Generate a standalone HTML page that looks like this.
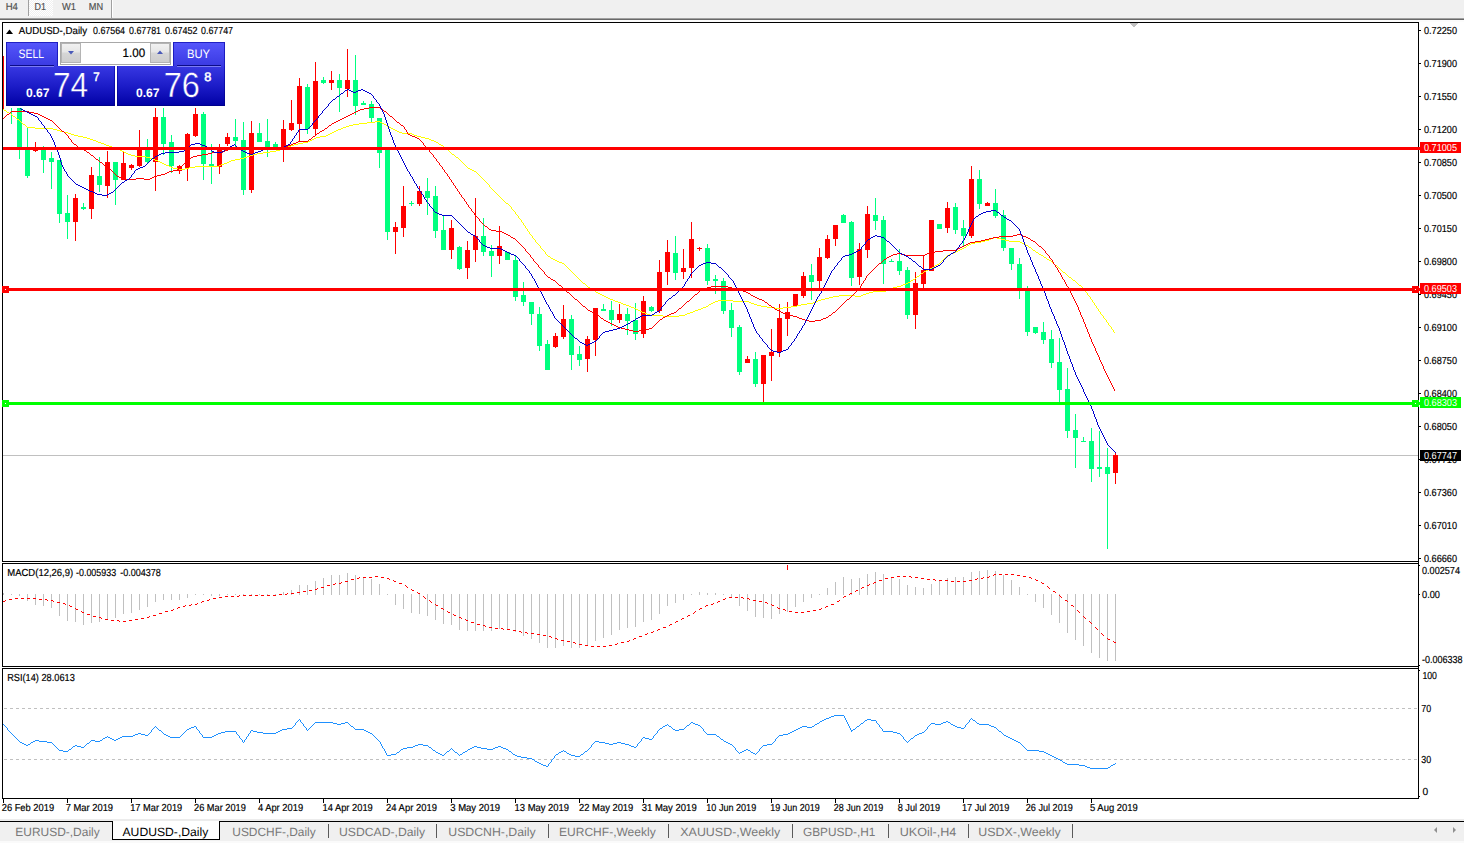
<!DOCTYPE html>
<html><head><meta charset="utf-8"><title>AUDUSD Daily</title>
<style>html,body{margin:0;padding:0;background:#fff;overflow:hidden}body{width:1464px;height:843px;font-family:"Liberation Sans",sans-serif}</style></head>
<body>
<svg width="1464" height="843" viewBox="0 0 1464 843" font-family='"Liberation Sans", sans-serif' text-rendering="geometricPrecision" style="display:block">
<defs>
<linearGradient id="gb" x1="0" y1="0" x2="0" y2="1"><stop offset="0" stop-color="#5656fc"/><stop offset="1" stop-color="#3a3ae2"/></linearGradient>
<linearGradient id="gl" gradientUnits="userSpaceOnUse" x1="0" y1="66" x2="0" y2="106"><stop offset="0" stop-color="#3838e2"/><stop offset="0.5" stop-color="#1c1cc8"/><stop offset="1" stop-color="#0000a4"/></linearGradient>
<linearGradient id="gd" x1="0" y1="0" x2="0" y2="1"><stop offset="0" stop-color="#1818c0"/><stop offset="1" stop-color="#00008c"/></linearGradient>
<linearGradient id="gs" x1="0" y1="0" x2="0" y2="1"><stop offset="0" stop-color="#f2f2f2"/><stop offset="0.45" stop-color="#e6e6e6"/><stop offset="0.5" stop-color="#d6d6d6"/><stop offset="1" stop-color="#cdcdcd"/></linearGradient>
<pattern id="chk" width="2" height="2" patternUnits="userSpaceOnUse"><rect width="2" height="2" fill="#f0f0f0"/><rect width="1" height="1" fill="#fff"/><rect x="1" y="1" width="1" height="1" fill="#fff"/></pattern>
<clipPath id="cm"><rect x="3" y="23" width="1415" height="538"/></clipPath>
</defs>
<rect x="0" y="0" width="1464" height="843" fill="#fff"/>
<rect x="0" y="0" width="1464" height="18" fill="#f0f0f0"/>
<rect x="0" y="18" width="1464" height="1" fill="#a0a0a0"/>
<rect x="0" y="19" width="1464" height="1" fill="#696969"/>
<rect x="0" y="20" width="1464" height="2" fill="#fcfcfc"/>
<rect x="29" y="0" width="24" height="16" fill="url(#chk)"/>
<rect x="28" y="0" width="1" height="16" fill="#a0a0a0"/>
<rect x="111" y="0" width="1" height="18" fill="#a0a0a0"/>
<rect x="112" y="0" width="1" height="17" fill="#fff"/>
<text x="5.7" y="9.6" font-size="10.2" fill="#505050" textLength="12.2" lengthAdjust="spacingAndGlyphs" stroke="#505050" stroke-width="0.18">H4</text>
<text x="34.6" y="9.6" font-size="10.2" fill="#505050" textLength="11.4" lengthAdjust="spacingAndGlyphs" stroke="#505050" stroke-width="0.18">D1</text>
<text x="62" y="9.6" font-size="10.2" fill="#505050" textLength="14" lengthAdjust="spacingAndGlyphs" stroke="#505050" stroke-width="0.18">W1</text>
<text x="88.8" y="9.6" font-size="10.2" fill="#505050" textLength="14.3" lengthAdjust="spacingAndGlyphs" stroke="#505050" stroke-width="0.18">MN</text>
<g shape-rendering="crispEdges">
<rect x="3" y="455" width="1415" height="1" fill="#c0c0c0"/>
<g clip-path="url(#cm)">
<rect x="3" y="56" width="1" height="54" fill="#ff0000"/>
<rect x="11" y="90" width="1" height="34" fill="#00ff7f"/>
<rect x="9" y="92" width="5" height="12" fill="#00ff7f"/>
<rect x="19" y="100" width="1" height="59" fill="#00ff7f"/>
<rect x="17" y="100" width="5" height="48" fill="#00ff7f"/>
<rect x="27" y="128" width="1" height="50" fill="#00ff7f"/>
<rect x="25" y="148" width="5" height="28" fill="#00ff7f"/>
<rect x="35" y="142" width="1" height="10" fill="#ff0000"/>
<rect x="33" y="148" width="5" height="3" fill="#ff0000"/>
<rect x="43" y="146" width="1" height="27" fill="#00ff7f"/>
<rect x="41" y="149" width="5" height="11" fill="#00ff7f"/>
<rect x="51" y="152" width="1" height="37" fill="#00ff7f"/>
<rect x="49" y="158" width="5" height="4" fill="#00ff7f"/>
<rect x="59" y="160" width="1" height="63" fill="#00ff7f"/>
<rect x="57" y="160" width="5" height="54" fill="#00ff7f"/>
<rect x="67" y="195" width="1" height="44" fill="#00ff7f"/>
<rect x="65" y="213" width="5" height="9" fill="#00ff7f"/>
<rect x="75" y="194" width="1" height="47" fill="#ff0000"/>
<rect x="73" y="198" width="5" height="24" fill="#ff0000"/>
<rect x="83" y="203" width="1" height="7" fill="#00ff7f"/>
<rect x="81" y="207" width="5" height="2" fill="#00ff7f"/>
<rect x="91" y="167" width="1" height="52" fill="#ff0000"/>
<rect x="89" y="175" width="5" height="34" fill="#ff0000"/>
<rect x="99" y="157" width="1" height="35" fill="#00ff7f"/>
<rect x="97" y="176" width="5" height="9" fill="#00ff7f"/>
<rect x="107" y="151" width="1" height="47" fill="#ff0000"/>
<rect x="105" y="162" width="5" height="24" fill="#ff0000"/>
<rect x="115" y="162" width="1" height="43" fill="#00ff7f"/>
<rect x="113" y="162" width="5" height="18" fill="#00ff7f"/>
<rect x="123" y="152" width="1" height="28" fill="#ff0000"/>
<rect x="121" y="163" width="5" height="17" fill="#ff0000"/>
<rect x="131" y="164" width="1" height="6" fill="#ff0000"/>
<rect x="129" y="165" width="5" height="3" fill="#ff0000"/>
<rect x="139" y="130" width="1" height="37" fill="#ff0000"/>
<rect x="137" y="147" width="5" height="19" fill="#ff0000"/>
<rect x="147" y="139" width="1" height="25" fill="#00ff7f"/>
<rect x="145" y="148" width="5" height="14" fill="#00ff7f"/>
<rect x="155" y="108" width="1" height="83" fill="#ff0000"/>
<rect x="153" y="117" width="5" height="45" fill="#ff0000"/>
<rect x="163" y="108" width="1" height="47" fill="#00ff7f"/>
<rect x="161" y="117" width="5" height="27" fill="#00ff7f"/>
<rect x="171" y="135" width="1" height="38" fill="#00ff7f"/>
<rect x="169" y="142" width="5" height="24" fill="#00ff7f"/>
<rect x="179" y="165" width="1" height="9" fill="#ff0000"/>
<rect x="177" y="166" width="5" height="5" fill="#ff0000"/>
<rect x="187" y="133" width="1" height="48" fill="#ff0000"/>
<rect x="185" y="134" width="5" height="34" fill="#ff0000"/>
<rect x="195" y="108" width="1" height="29" fill="#ff0000"/>
<rect x="193" y="114" width="5" height="22" fill="#ff0000"/>
<rect x="203" y="112" width="1" height="68" fill="#00ff7f"/>
<rect x="201" y="114" width="5" height="50" fill="#00ff7f"/>
<rect x="211" y="144" width="1" height="40" fill="#00ff7f"/>
<rect x="209" y="164" width="5" height="3" fill="#00ff7f"/>
<rect x="219" y="144" width="1" height="30" fill="#ff0000"/>
<rect x="217" y="148" width="5" height="19" fill="#ff0000"/>
<rect x="227" y="133" width="1" height="13" fill="#ff0000"/>
<rect x="225" y="137" width="5" height="7" fill="#ff0000"/>
<rect x="235" y="119" width="1" height="28" fill="#00ff7f"/>
<rect x="233" y="137" width="5" height="4" fill="#00ff7f"/>
<rect x="243" y="122" width="1" height="73" fill="#00ff7f"/>
<rect x="241" y="140" width="5" height="50" fill="#00ff7f"/>
<rect x="251" y="121" width="1" height="72" fill="#ff0000"/>
<rect x="249" y="133" width="5" height="57" fill="#ff0000"/>
<rect x="259" y="123" width="1" height="19" fill="#00ff7f"/>
<rect x="257" y="133" width="5" height="9" fill="#00ff7f"/>
<rect x="267" y="119" width="1" height="38" fill="#00ff7f"/>
<rect x="265" y="141" width="5" height="7" fill="#00ff7f"/>
<rect x="275" y="142" width="1" height="6" fill="#00ff7f"/>
<rect x="273" y="144" width="5" height="4" fill="#00ff7f"/>
<rect x="283" y="120" width="1" height="42" fill="#ff0000"/>
<rect x="281" y="129" width="5" height="19" fill="#ff0000"/>
<rect x="291" y="100" width="1" height="31" fill="#ff0000"/>
<rect x="289" y="123" width="5" height="7" fill="#ff0000"/>
<rect x="299" y="78" width="1" height="64" fill="#ff0000"/>
<rect x="297" y="86" width="5" height="38" fill="#ff0000"/>
<rect x="307" y="84" width="1" height="50" fill="#00ff7f"/>
<rect x="305" y="87" width="5" height="42" fill="#00ff7f"/>
<rect x="315" y="62" width="1" height="73" fill="#ff0000"/>
<rect x="313" y="81" width="5" height="48" fill="#ff0000"/>
<rect x="323" y="77" width="1" height="7" fill="#00ff7f"/>
<rect x="321" y="80" width="5" height="3" fill="#00ff7f"/>
<rect x="331" y="71" width="1" height="19" fill="#ff0000"/>
<rect x="329" y="80" width="5" height="3" fill="#ff0000"/>
<rect x="339" y="74" width="1" height="38" fill="#00ff7f"/>
<rect x="337" y="80" width="5" height="8" fill="#00ff7f"/>
<rect x="347" y="49" width="1" height="48" fill="#ff0000"/>
<rect x="345" y="80" width="5" height="9" fill="#ff0000"/>
<rect x="355" y="55" width="1" height="60" fill="#00ff7f"/>
<rect x="353" y="80" width="5" height="26" fill="#00ff7f"/>
<rect x="363" y="101" width="1" height="4" fill="#00ff7f"/>
<rect x="361" y="103" width="5" height="2" fill="#00ff7f"/>
<rect x="371" y="101" width="1" height="21" fill="#00ff7f"/>
<rect x="369" y="104" width="5" height="14" fill="#00ff7f"/>
<rect x="379" y="118" width="1" height="50" fill="#00ff7f"/>
<rect x="377" y="118" width="5" height="35" fill="#00ff7f"/>
<rect x="387" y="150" width="1" height="90" fill="#00ff7f"/>
<rect x="385" y="150" width="5" height="82" fill="#00ff7f"/>
<rect x="395" y="222" width="1" height="32" fill="#ff0000"/>
<rect x="393" y="227" width="5" height="5" fill="#ff0000"/>
<rect x="403" y="186" width="1" height="51" fill="#ff0000"/>
<rect x="401" y="206" width="5" height="22" fill="#ff0000"/>
<rect x="411" y="201" width="1" height="5" fill="#00ff7f"/>
<rect x="409" y="203" width="5" height="1" fill="#00ff7f"/>
<rect x="419" y="186" width="1" height="20" fill="#ff0000"/>
<rect x="417" y="191" width="5" height="13" fill="#ff0000"/>
<rect x="427" y="178" width="1" height="37" fill="#00ff7f"/>
<rect x="425" y="191" width="5" height="7" fill="#00ff7f"/>
<rect x="435" y="186" width="1" height="52" fill="#00ff7f"/>
<rect x="433" y="196" width="5" height="35" fill="#00ff7f"/>
<rect x="443" y="215" width="1" height="35" fill="#00ff7f"/>
<rect x="441" y="230" width="5" height="20" fill="#00ff7f"/>
<rect x="451" y="220" width="1" height="39" fill="#ff0000"/>
<rect x="449" y="228" width="5" height="22" fill="#ff0000"/>
<rect x="459" y="246" width="1" height="24" fill="#00ff7f"/>
<rect x="457" y="247" width="5" height="22" fill="#00ff7f"/>
<rect x="467" y="241" width="1" height="38" fill="#ff0000"/>
<rect x="465" y="250" width="5" height="18" fill="#ff0000"/>
<rect x="475" y="198" width="1" height="64" fill="#ff0000"/>
<rect x="473" y="236" width="5" height="14" fill="#ff0000"/>
<rect x="483" y="218" width="1" height="38" fill="#00ff7f"/>
<rect x="481" y="236" width="5" height="16" fill="#00ff7f"/>
<rect x="491" y="245" width="1" height="32" fill="#00ff7f"/>
<rect x="489" y="251" width="5" height="5" fill="#00ff7f"/>
<rect x="499" y="226" width="1" height="38" fill="#ff0000"/>
<rect x="497" y="246" width="5" height="10" fill="#ff0000"/>
<rect x="507" y="252" width="1" height="8" fill="#00ff7f"/>
<rect x="505" y="252" width="5" height="8" fill="#00ff7f"/>
<rect x="515" y="256" width="1" height="45" fill="#00ff7f"/>
<rect x="513" y="260" width="5" height="37" fill="#00ff7f"/>
<rect x="523" y="282" width="1" height="24" fill="#00ff7f"/>
<rect x="521" y="295" width="5" height="7" fill="#00ff7f"/>
<rect x="531" y="302" width="1" height="23" fill="#00ff7f"/>
<rect x="529" y="302" width="5" height="12" fill="#00ff7f"/>
<rect x="539" y="307" width="1" height="44" fill="#00ff7f"/>
<rect x="537" y="314" width="5" height="32" fill="#00ff7f"/>
<rect x="547" y="340" width="1" height="30" fill="#00ff7f"/>
<rect x="545" y="344" width="5" height="26" fill="#00ff7f"/>
<rect x="555" y="333" width="1" height="15" fill="#ff0000"/>
<rect x="553" y="336" width="5" height="11" fill="#ff0000"/>
<rect x="563" y="305" width="1" height="34" fill="#ff0000"/>
<rect x="561" y="319" width="5" height="18" fill="#ff0000"/>
<rect x="571" y="315" width="1" height="55" fill="#00ff7f"/>
<rect x="569" y="319" width="5" height="36" fill="#00ff7f"/>
<rect x="579" y="346" width="1" height="20" fill="#00ff7f"/>
<rect x="577" y="354" width="5" height="6" fill="#00ff7f"/>
<rect x="587" y="336" width="1" height="36" fill="#ff0000"/>
<rect x="585" y="339" width="5" height="20" fill="#ff0000"/>
<rect x="595" y="308" width="1" height="48" fill="#ff0000"/>
<rect x="593" y="308" width="5" height="32" fill="#ff0000"/>
<rect x="603" y="304" width="1" height="7" fill="#00ff7f"/>
<rect x="601" y="309" width="5" height="2" fill="#00ff7f"/>
<rect x="611" y="301" width="1" height="25" fill="#00ff7f"/>
<rect x="609" y="310" width="5" height="10" fill="#00ff7f"/>
<rect x="619" y="304" width="1" height="19" fill="#ff0000"/>
<rect x="617" y="314" width="5" height="6" fill="#ff0000"/>
<rect x="627" y="308" width="1" height="27" fill="#00ff7f"/>
<rect x="625" y="314" width="5" height="7" fill="#00ff7f"/>
<rect x="635" y="303" width="1" height="37" fill="#00ff7f"/>
<rect x="633" y="320" width="5" height="14" fill="#00ff7f"/>
<rect x="643" y="296" width="1" height="42" fill="#ff0000"/>
<rect x="641" y="301" width="5" height="33" fill="#ff0000"/>
<rect x="651" y="306" width="1" height="6" fill="#00ff7f"/>
<rect x="649" y="307" width="5" height="4" fill="#00ff7f"/>
<rect x="659" y="260" width="1" height="53" fill="#ff0000"/>
<rect x="657" y="272" width="5" height="39" fill="#ff0000"/>
<rect x="667" y="240" width="1" height="45" fill="#ff0000"/>
<rect x="665" y="252" width="5" height="20" fill="#ff0000"/>
<rect x="675" y="236" width="1" height="44" fill="#00ff7f"/>
<rect x="673" y="253" width="5" height="20" fill="#00ff7f"/>
<rect x="683" y="249" width="1" height="30" fill="#ff0000"/>
<rect x="681" y="268" width="5" height="4" fill="#ff0000"/>
<rect x="691" y="222" width="1" height="56" fill="#ff0000"/>
<rect x="689" y="239" width="5" height="29" fill="#ff0000"/>
<rect x="699" y="247" width="1" height="4" fill="#ff0000"/>
<rect x="697" y="248" width="5" height="1" fill="#ff0000"/>
<rect x="707" y="244" width="1" height="41" fill="#00ff7f"/>
<rect x="705" y="248" width="5" height="33" fill="#00ff7f"/>
<rect x="715" y="275" width="1" height="19" fill="#00ff7f"/>
<rect x="713" y="279" width="5" height="2" fill="#00ff7f"/>
<rect x="723" y="278" width="1" height="36" fill="#00ff7f"/>
<rect x="721" y="281" width="5" height="30" fill="#00ff7f"/>
<rect x="731" y="303" width="1" height="34" fill="#00ff7f"/>
<rect x="729" y="310" width="5" height="18" fill="#00ff7f"/>
<rect x="739" y="325" width="1" height="50" fill="#00ff7f"/>
<rect x="737" y="327" width="5" height="45" fill="#00ff7f"/>
<rect x="747" y="356" width="1" height="7" fill="#ff0000"/>
<rect x="745" y="359" width="5" height="4" fill="#ff0000"/>
<rect x="755" y="352" width="1" height="35" fill="#00ff7f"/>
<rect x="753" y="359" width="5" height="25" fill="#00ff7f"/>
<rect x="763" y="355" width="1" height="47" fill="#ff0000"/>
<rect x="761" y="355" width="5" height="29" fill="#ff0000"/>
<rect x="771" y="329" width="1" height="52" fill="#ff0000"/>
<rect x="769" y="352" width="5" height="4" fill="#ff0000"/>
<rect x="779" y="304" width="1" height="53" fill="#ff0000"/>
<rect x="777" y="318" width="5" height="34" fill="#ff0000"/>
<rect x="787" y="302" width="1" height="34" fill="#ff0000"/>
<rect x="785" y="312" width="5" height="7" fill="#ff0000"/>
<rect x="795" y="294" width="1" height="13" fill="#ff0000"/>
<rect x="793" y="294" width="5" height="12" fill="#ff0000"/>
<rect x="803" y="272" width="1" height="26" fill="#ff0000"/>
<rect x="801" y="276" width="5" height="20" fill="#ff0000"/>
<rect x="811" y="264" width="1" height="36" fill="#00ff7f"/>
<rect x="809" y="275" width="5" height="7" fill="#00ff7f"/>
<rect x="819" y="248" width="1" height="40" fill="#ff0000"/>
<rect x="817" y="257" width="5" height="24" fill="#ff0000"/>
<rect x="827" y="235" width="1" height="24" fill="#ff0000"/>
<rect x="825" y="239" width="5" height="19" fill="#ff0000"/>
<rect x="835" y="225" width="1" height="21" fill="#ff0000"/>
<rect x="833" y="225" width="5" height="14" fill="#ff0000"/>
<rect x="843" y="214" width="1" height="9" fill="#00ff7f"/>
<rect x="841" y="215" width="5" height="8" fill="#00ff7f"/>
<rect x="851" y="221" width="1" height="65" fill="#00ff7f"/>
<rect x="849" y="222" width="5" height="56" fill="#00ff7f"/>
<rect x="859" y="243" width="1" height="42" fill="#ff0000"/>
<rect x="857" y="249" width="5" height="28" fill="#ff0000"/>
<rect x="867" y="206" width="1" height="52" fill="#ff0000"/>
<rect x="865" y="214" width="5" height="36" fill="#ff0000"/>
<rect x="875" y="198" width="1" height="32" fill="#00ff7f"/>
<rect x="873" y="215" width="5" height="6" fill="#00ff7f"/>
<rect x="883" y="216" width="1" height="68" fill="#00ff7f"/>
<rect x="881" y="220" width="5" height="44" fill="#00ff7f"/>
<rect x="891" y="259" width="1" height="3" fill="#00ff7f"/>
<rect x="889" y="261" width="5" height="1" fill="#00ff7f"/>
<rect x="899" y="249" width="1" height="26" fill="#00ff7f"/>
<rect x="897" y="261" width="5" height="10" fill="#00ff7f"/>
<rect x="907" y="267" width="1" height="52" fill="#00ff7f"/>
<rect x="905" y="270" width="5" height="45" fill="#00ff7f"/>
<rect x="915" y="272" width="1" height="57" fill="#ff0000"/>
<rect x="913" y="283" width="5" height="32" fill="#ff0000"/>
<rect x="923" y="256" width="1" height="32" fill="#ff0000"/>
<rect x="921" y="270" width="5" height="14" fill="#ff0000"/>
<rect x="931" y="220" width="1" height="51" fill="#ff0000"/>
<rect x="929" y="220" width="5" height="51" fill="#ff0000"/>
<rect x="939" y="224" width="1" height="5" fill="#00ff7f"/>
<rect x="937" y="224" width="5" height="5" fill="#00ff7f"/>
<rect x="947" y="202" width="1" height="31" fill="#ff0000"/>
<rect x="945" y="208" width="5" height="20" fill="#ff0000"/>
<rect x="955" y="203" width="1" height="31" fill="#00ff7f"/>
<rect x="953" y="207" width="5" height="23" fill="#00ff7f"/>
<rect x="963" y="220" width="1" height="27" fill="#00ff7f"/>
<rect x="961" y="228" width="5" height="8" fill="#00ff7f"/>
<rect x="971" y="166" width="1" height="72" fill="#ff0000"/>
<rect x="969" y="179" width="5" height="57" fill="#ff0000"/>
<rect x="979" y="170" width="1" height="39" fill="#00ff7f"/>
<rect x="977" y="179" width="5" height="25" fill="#00ff7f"/>
<rect x="987" y="202" width="1" height="4" fill="#ff0000"/>
<rect x="985" y="203" width="5" height="3" fill="#ff0000"/>
<rect x="995" y="189" width="1" height="29" fill="#00ff7f"/>
<rect x="993" y="203" width="5" height="13" fill="#00ff7f"/>
<rect x="1003" y="210" width="1" height="41" fill="#00ff7f"/>
<rect x="1001" y="215" width="5" height="33" fill="#00ff7f"/>
<rect x="1011" y="248" width="1" height="22" fill="#00ff7f"/>
<rect x="1009" y="248" width="5" height="16" fill="#00ff7f"/>
<rect x="1019" y="258" width="1" height="41" fill="#00ff7f"/>
<rect x="1017" y="264" width="5" height="25" fill="#00ff7f"/>
<rect x="1027" y="286" width="1" height="50" fill="#00ff7f"/>
<rect x="1025" y="289" width="5" height="43" fill="#00ff7f"/>
<rect x="1035" y="327" width="1" height="7" fill="#00ff7f"/>
<rect x="1033" y="327" width="5" height="6" fill="#00ff7f"/>
<rect x="1043" y="322" width="1" height="22" fill="#00ff7f"/>
<rect x="1041" y="332" width="5" height="8" fill="#00ff7f"/>
<rect x="1051" y="330" width="1" height="38" fill="#00ff7f"/>
<rect x="1049" y="339" width="5" height="24" fill="#00ff7f"/>
<rect x="1059" y="338" width="1" height="64" fill="#00ff7f"/>
<rect x="1057" y="362" width="5" height="28" fill="#00ff7f"/>
<rect x="1067" y="368" width="1" height="70" fill="#00ff7f"/>
<rect x="1065" y="389" width="5" height="42" fill="#00ff7f"/>
<rect x="1075" y="414" width="1" height="54" fill="#00ff7f"/>
<rect x="1073" y="430" width="5" height="8" fill="#00ff7f"/>
<rect x="1083" y="437" width="1" height="5" fill="#00ff7f"/>
<rect x="1081" y="441" width="5" height="1" fill="#00ff7f"/>
<rect x="1091" y="428" width="1" height="54" fill="#00ff7f"/>
<rect x="1089" y="441" width="5" height="28" fill="#00ff7f"/>
<rect x="1099" y="431" width="1" height="46" fill="#00ff7f"/>
<rect x="1097" y="467" width="5" height="2" fill="#00ff7f"/>
<rect x="1107" y="448" width="1" height="101" fill="#00ff7f"/>
<rect x="1105" y="467" width="5" height="7" fill="#00ff7f"/>
<rect x="1115" y="452" width="1" height="32" fill="#ff0000"/>
<rect x="1113" y="455" width="5" height="18" fill="#ff0000"/>
</g>
<path d="M4 110.5h2M7 112.5h2M9 113.5h2M13 116.5h2M17 119.5h2M375 121.5h5M367 122.5h8M380 122.5h2M359 123.5h8M382 123.5h2M23 124.5h2M353 124.5h6M384 124.5h2M349 125.5h4M346 126.5h3M387 126.5h2M27 127.5h8M343 127.5h3M389 127.5h2M35 128.5h18M341 128.5h2M391 128.5h2M53 129.5h4M338 129.5h3M393 129.5h2M57 130.5h3M336 130.5h2M395 130.5h2M60 131.5h4M334 131.5h2M397 131.5h2M64 132.5h4M332 132.5h2M399 132.5h3M68 133.5h3M330 133.5h2M402 133.5h10M71 134.5h3M328 134.5h2M412 134.5h2M74 135.5h4M326 135.5h2M414 135.5h3M78 136.5h5M320 136.5h6M417 136.5h4M83 137.5h4M316 137.5h4M421 137.5h4M87 138.5h3M314 138.5h2M425 138.5h4M90 139.5h3M312 139.5h2M429 139.5h2M93 140.5h3M310 140.5h2M431 140.5h3M96 141.5h2M308 141.5h2M434 141.5h2M98 142.5h3M303 142.5h5M436 142.5h2M101 143.5h3M298 143.5h5M104 144.5h2M294 144.5h4M439 144.5h2M106 145.5h3M291 145.5h3M441 145.5h2M109 146.5h3M288 146.5h3M112 147.5h3M285 147.5h3M115 148.5h2M283 148.5h2M117 149.5h3M280 149.5h3M446 149.5h2M120 150.5h2M276 150.5h4M122 151.5h2M270 151.5h6M124 152.5h2M263 152.5h7M126 153.5h2M257 153.5h6M128 154.5h3M253 154.5h4M452 154.5h2M131 155.5h4M250 155.5h3M135 156.5h11M247 156.5h3M146 157.5h4M244 157.5h3M456 157.5h2M150 158.5h3M240 158.5h4M153 159.5h2M235 159.5h5M155 160.5h3M231 160.5h4M158 161.5h2M229 161.5h2M160 162.5h2M227 162.5h2M162 163.5h2M224 163.5h3M164 164.5h2M221 164.5h3M166 165.5h3M219 165.5h2M169 166.5h2M195 166.5h24M171 167.5h2M189 167.5h6M173 168.5h6M185 168.5h4M468 168.5h2M179 169.5h6M470 169.5h2M472 170.5h2M474 171.5h2M506 203.5h2M994 237.5h3M991 238.5h3M997 238.5h4M989 239.5h2M1001 239.5h4M985 240.5h4M1005 240.5h4M981 241.5h4M1009 241.5h11M975 242.5h6M1020 242.5h2M971 243.5h4M1022 243.5h2M969 244.5h2M1024 244.5h2M967 245.5h2M1026 245.5h2M964 247.5h2M1029 247.5h2M962 248.5h2M960 249.5h2M958 250.5h2M1033 250.5h2M956 251.5h2M954 252.5h2M1036 252.5h2M951 253.5h3M949 254.5h2M1039 254.5h2M947 255.5h2M1041 255.5h2M548 256.5h2M1044 257.5h2M551 258.5h2M553 259.5h2M1047 259.5h2M555 260.5h2M1049 260.5h2M557 261.5h2M559 262.5h3M562 263.5h2M937 264.5h2M935 265.5h2M1055 265.5h2M932 267.5h2M930 268.5h2M928 269.5h2M926 270.5h2M924 271.5h2M1063 272.5h2M921 273.5h2M917 276.5h2M1069 277.5h2M913 279.5h2M911 280.5h2M1073 280.5h2M908 282.5h2M583 283.5h2M906 283.5h2M903 284.5h3M901 285.5h2M1079 285.5h2M897 286.5h4M588 287.5h2M893 287.5h4M890 288.5h3M591 289.5h2M888 289.5h2M593 290.5h2M886 290.5h2M873 291.5h13M596 292.5h2M869 292.5h4M598 293.5h2M866 293.5h3M600 294.5h2M863 294.5h3M602 295.5h2M839 295.5h16M861 295.5h2M604 296.5h2M833 296.5h6M855 296.5h6M606 297.5h2M829 297.5h4M608 298.5h2M825 298.5h4M610 299.5h3M821 299.5h4M613 300.5h2M718 300.5h15M818 300.5h3M615 301.5h3M715 301.5h3M733 301.5h16M815 301.5h3M618 302.5h3M713 302.5h2M749 302.5h2M813 302.5h2M621 303.5h2M711 303.5h2M751 303.5h3M807 303.5h6M623 304.5h3M709 304.5h2M754 304.5h3M801 304.5h6M626 305.5h3M757 305.5h4M797 305.5h4M629 306.5h2M706 306.5h2M761 306.5h6M791 306.5h6M631 307.5h3M703 307.5h3M767 307.5h8M783 307.5h8M634 308.5h2M701 308.5h2M775 308.5h8M636 309.5h2M698 309.5h3M638 310.5h2M695 310.5h3M640 311.5h2M693 311.5h2M642 312.5h3M690 312.5h3M645 313.5h2M687 313.5h3M647 314.5h3M685 314.5h2M650 315.5h13M679 315.5h6M663 316.5h16M3.5 109v1M6.5 111v1M11.5 114v1M12.5 115v1M15.5 117v1M16.5 118v1M19.5 120v1M20.5 121v1M21.5 122v1M22.5 123v1M25.5 125v1M26.5 126v1M386.5 125v1M438.5 143v1M443.5 146v1M444.5 147v1M445.5 148v1M448.5 150v1M449.5 151v1M450.5 152v1M451.5 153v1M454.5 155v1M455.5 156v1M458.5 158v1M459.5 159v1M460.5 160v1M461.5 161v1M462.5 162v1M463.5 163v1M464.5 164v1M465.5 165v1M466.5 166v1M467.5 167v1M476.5 172v1M477.5 173v1M478.5 174v1M479.5 175v1M480.5 176v1M481.5 177v1M482.5 178v1M483.5 179v1M484.5 180v1M485.5 181v1M486.5 182v1M487.5 183v1M488.5 184v1M489.5 185v2M490.5 187v1M491.5 188v1M492.5 189v1M493.5 190v1M494.5 191v1M495.5 192v1M496.5 193v1M497.5 194v1M498.5 195v1M499.5 196v1M500.5 197v1M501.5 198v1M502.5 199v1M503.5 200v1M504.5 201v1M505.5 202v1M508.5 204v1M509.5 205v1M510.5 206v1M511.5 207v2M512.5 209v1M513.5 210v1M514.5 211v1M515.5 212v2M516.5 214v1M517.5 215v1M518.5 216v2M519.5 218v1M520.5 219v1M521.5 220v2M522.5 222v1M523.5 223v2M524.5 225v1M525.5 226v2M526.5 228v1M527.5 229v2M528.5 231v1M529.5 232v2M530.5 234v1M531.5 235v1M532.5 236v2M533.5 238v1M534.5 239v1M535.5 240v2M536.5 242v1M537.5 243v1M538.5 244v1M539.5 245v1M540.5 246v2M541.5 248v1M542.5 249v1M543.5 250v1M544.5 251v1M545.5 252v2M546.5 254v1M547.5 255v1M550.5 257v1M564.5 264v1M565.5 265v1M566.5 266v1M567.5 267v1M568.5 268v1M569.5 269v1M570.5 270v1M571.5 271v1M572.5 272v1M573.5 273v1M574.5 274v1M575.5 275v1M576.5 276v1M577.5 277v1M578.5 278v1M579.5 279v1M580.5 280v1M581.5 281v1M582.5 282v1M585.5 284v1M586.5 285v1M587.5 286v1M590.5 288v1M595.5 291v1M708.5 305v1M910.5 281v1M915.5 278v1M916.5 277v1M919.5 275v1M920.5 274v1M923.5 272v1M934.5 266v1M939.5 263v1M940.5 262v1M941.5 261v1M942.5 260v1M943.5 259v1M944.5 258v1M945.5 257v1M946.5 256v1M966.5 246v1M1028.5 246v1M1031.5 248v1M1032.5 249v1M1035.5 251v1M1038.5 253v1M1043.5 256v1M1046.5 258v1M1051.5 261v1M1052.5 262v1M1053.5 263v1M1054.5 264v1M1057.5 266v1M1058.5 267v1M1059.5 268v1M1060.5 269v1M1061.5 270v1M1062.5 271v1M1065.5 273v1M1066.5 274v1M1067.5 275v1M1068.5 276v1M1071.5 278v1M1072.5 279v1M1075.5 281v1M1076.5 282v1M1077.5 283v1M1078.5 284v1M1081.5 286v1M1082.5 287v1M1083.5 288v1M1084.5 289v2M1085.5 291v1M1086.5 292v1M1087.5 293v2M1088.5 295v1M1089.5 296v1M1090.5 297v2M1091.5 299v1M1092.5 300v2M1093.5 302v1M1094.5 303v2M1095.5 305v1M1096.5 306v2M1097.5 308v1M1098.5 309v2M1099.5 311v1M1100.5 312v2M1101.5 314v1M1102.5 315v1M1103.5 316v2M1104.5 318v1M1105.5 319v1M1106.5 320v2M1107.5 322v1M1108.5 323v2M1109.5 325v1M1110.5 326v1M1111.5 327v2M1112.5 329v1M1113.5 330v2M1114.5 332v1" fill="none" stroke="#ffff00" stroke-width="1"/>
<path d="M369 107.5h11M364 108.5h5M380 108.5h2M360 109.5h4M358 110.5h2M11 111.5h18M356 111.5h2M384 111.5h2M29 112.5h5M354 112.5h2M34 113.5h4M352 113.5h2M7 114.5h2M38 114.5h2M350 114.5h2M40 115.5h2M348 115.5h2M42 116.5h2M346 116.5h2M390 116.5h2M44 117.5h2M344 117.5h2M46 118.5h2M342 118.5h2M48 119.5h2M340 119.5h2M50 120.5h2M338 120.5h2M336 121.5h2M334 122.5h2M397 122.5h2M332 123.5h2M329 125.5h2M401 125.5h2M325 128.5h2M322 130.5h2M62 131.5h2M320 131.5h2M317 133.5h2M408 134.5h2M410 135.5h2M313 136.5h2M412 136.5h3M415 137.5h2M417 138.5h2M309 139.5h2M298 141.5h10M296 142.5h2M293 143.5h3M74 144.5h2M291 144.5h2M288 145.5h3M286 146.5h2M78 147.5h2M284 147.5h2M80 148.5h2M240 148.5h44M82 149.5h2M228 149.5h12M84 150.5h2M225 150.5h3M223 151.5h2M87 152.5h2M212 152.5h11M208 153.5h4M202 154.5h6M91 155.5h2M197 155.5h5M193 156.5h4M191 157.5h2M96 159.5h2M187 160.5h2M100 162.5h2M104 165.5h2M179 167.5h2M108 168.5h2M173 170.5h4M169 171.5h4M167 172.5h2M165 173.5h2M161 174.5h4M157 175.5h4M117 176.5h2M154 176.5h3M119 177.5h2M152 177.5h2M121 178.5h3M136 178.5h8M150 178.5h2M124 179.5h12M144 179.5h6M485 226.5h2M489 229.5h2M491 230.5h5M496 231.5h6M502 232.5h2M504 233.5h2M506 234.5h2M1017 234.5h4M508 235.5h2M1013 235.5h4M1021 235.5h2M999 236.5h14M1023 236.5h3M511 237.5h2M993 237.5h6M1026 237.5h2M513 238.5h2M989 238.5h4M1028 238.5h2M985 239.5h4M981 240.5h4M1031 240.5h2M975 241.5h6M1033 241.5h2M970 242.5h5M968 243.5h2M966 244.5h2M964 245.5h2M962 246.5h2M1039 246.5h2M960 247.5h2M958 248.5h2M956 249.5h2M943 250.5h13M935 251.5h8M930 252.5h5M897 253.5h4M927 253.5h3M893 254.5h4M901 254.5h4M925 254.5h2M891 255.5h2M905 255.5h20M889 256.5h2M887 257.5h2M884 259.5h2M879 263.5h2M548 277.5h2M551 279.5h2M553 280.5h2M559 285.5h2M711 286.5h17M707 287.5h4M728 287.5h4M704 288.5h3M732 288.5h4M702 289.5h2M736 289.5h3M700 290.5h2M739 290.5h4M743 291.5h3M567 292.5h2M746 292.5h2M748 293.5h2M695 294.5h2M751 295.5h2M753 296.5h2M755 297.5h2M757 298.5h2M575 299.5h2M759 299.5h3M847 299.5h2M762 300.5h2M687 301.5h2M765 302.5h2M769 305.5h2M583 306.5h2M772 307.5h2M679 308.5h2M775 309.5h2M588 310.5h2M777 310.5h2M590 311.5h2M779 311.5h2M592 312.5h2M674 312.5h2M781 312.5h2M833 312.5h2M594 313.5h2M671 313.5h3M783 313.5h3M669 314.5h2M786 314.5h3M597 315.5h2M667 315.5h2M789 315.5h4M829 315.5h2M665 316.5h2M793 316.5h4M663 317.5h2M797 317.5h2M826 317.5h2M601 318.5h2M799 318.5h3M823 318.5h3M660 319.5h2M802 319.5h3M821 319.5h2M604 320.5h2M805 320.5h4M815 320.5h6M606 321.5h2M809 321.5h6M608 322.5h2M610 323.5h2M612 324.5h2M614 325.5h2M616 326.5h2M618 327.5h3M621 328.5h4M649 328.5h3M625 329.5h4M645 329.5h4M629 330.5h4M639 330.5h6M633 331.5h6M3.5 118v1M4.5 117v1M5.5 116v1M6.5 115v1M9.5 113v1M10.5 112v1M52.5 121v1M53.5 122v1M54.5 123v1M55.5 124v1M56.5 125v1M57.5 126v1M58.5 127v1M59.5 128v1M60.5 129v1M61.5 130v1M64.5 132v1M65.5 133v1M66.5 134v1M67.5 135v1M68.5 136v2M69.5 138v1M70.5 139v1M71.5 140v2M72.5 142v1M73.5 143v1M76.5 145v1M77.5 146v1M86.5 151v1M89.5 153v1M90.5 154v1M93.5 156v1M94.5 157v1M95.5 158v1M98.5 160v1M99.5 161v1M102.5 163v1M103.5 164v1M106.5 166v1M107.5 167v1M110.5 169v1M111.5 170v1M112.5 171v1M113.5 172v1M114.5 173v1M115.5 174v1M116.5 175v1M177.5 169v1M178.5 168v1M181.5 166v1M182.5 165v1M183.5 164v1M184.5 163v1M185.5 162v1M186.5 161v1M189.5 159v1M190.5 158v1M308.5 140v1M311.5 138v1M312.5 137v1M315.5 135v1M316.5 134v1M319.5 132v1M324.5 129v1M327.5 127v1M328.5 126v1M331.5 124v1M382.5 109v1M383.5 110v1M386.5 112v1M387.5 113v1M388.5 114v1M389.5 115v1M392.5 117v1M393.5 118v1M394.5 119v1M395.5 120v1M396.5 121v1M399.5 123v1M400.5 124v1M403.5 126v1M404.5 127v2M405.5 129v1M406.5 130v2M407.5 132v2M419.5 139v1M420.5 140v1M421.5 141v1M422.5 142v1M423.5 143v2M424.5 145v1M425.5 146v1M426.5 147v1M427.5 148v1M428.5 149v1M429.5 150v2M430.5 152v1M431.5 153v1M432.5 154v1M433.5 155v2M434.5 157v1M435.5 158v1M436.5 159v2M437.5 161v1M438.5 162v1M439.5 163v2M440.5 165v1M441.5 166v1M442.5 167v2M443.5 169v1M444.5 170v2M445.5 172v1M446.5 173v1M447.5 174v2M448.5 176v1M449.5 177v2M450.5 179v1M451.5 180v2M452.5 182v1M453.5 183v2M454.5 185v1M455.5 186v2M456.5 188v1M457.5 189v2M458.5 191v1M459.5 192v2M460.5 194v1M461.5 195v2M462.5 197v1M463.5 198v1M464.5 199v2M465.5 201v1M466.5 202v2M467.5 204v1M468.5 205v2M469.5 207v1M470.5 208v1M471.5 209v2M472.5 211v1M473.5 212v1M474.5 213v2M475.5 215v1M476.5 216v1M477.5 217v1M478.5 218v1M479.5 219v2M480.5 221v1M481.5 222v1M482.5 223v1M483.5 224v1M484.5 225v1M487.5 227v1M488.5 228v1M510.5 236v1M515.5 239v1M516.5 240v1M517.5 241v1M518.5 242v1M519.5 243v1M520.5 244v1M521.5 245v1M522.5 246v1M523.5 247v1M524.5 248v1M525.5 249v2M526.5 251v1M527.5 252v1M528.5 253v1M529.5 254v1M530.5 255v2M531.5 257v1M532.5 258v1M533.5 259v2M534.5 261v1M535.5 262v1M536.5 263v1M537.5 264v1M538.5 265v2M539.5 267v1M540.5 268v1M541.5 269v1M542.5 270v1M543.5 271v1M544.5 272v2M545.5 274v1M546.5 275v1M547.5 276v1M550.5 278v1M555.5 281v1M556.5 282v1M557.5 283v1M558.5 284v1M561.5 286v1M562.5 287v1M563.5 288v1M564.5 289v1M565.5 290v1M566.5 291v1M569.5 293v1M570.5 294v1M571.5 295v1M572.5 296v1M573.5 297v1M574.5 298v1M577.5 300v1M578.5 301v1M579.5 302v1M580.5 303v1M581.5 304v1M582.5 305v1M585.5 307v1M586.5 308v1M587.5 309v1M596.5 314v1M599.5 316v1M600.5 317v1M603.5 319v1M652.5 327v1M653.5 326v1M654.5 325v1M655.5 324v1M656.5 323v1M657.5 322v1M658.5 321v1M659.5 320v1M662.5 318v1M676.5 311v1M677.5 310v1M678.5 309v1M681.5 307v1M682.5 306v1M683.5 305v1M684.5 304v1M685.5 303v1M686.5 302v1M689.5 300v1M690.5 299v1M691.5 298v1M692.5 297v1M693.5 296v1M694.5 295v1M697.5 293v1M698.5 292v1M699.5 291v1M750.5 294v1M764.5 301v1M767.5 303v1M768.5 304v1M771.5 306v1M774.5 308v1M828.5 316v1M831.5 314v1M832.5 313v1M835.5 311v1M836.5 310v1M837.5 309v1M838.5 308v1M839.5 307v1M840.5 306v1M841.5 305v1M842.5 304v1M843.5 303v1M844.5 302v1M845.5 301v1M846.5 300v1M849.5 298v1M850.5 297v1M851.5 296v1M852.5 295v1M853.5 294v1M854.5 293v1M855.5 292v1M856.5 291v1M857.5 290v1M858.5 289v1M859.5 288v1M860.5 286v2M861.5 284v2M862.5 283v1M863.5 281v2M864.5 280v1M865.5 278v2M866.5 276v2M867.5 275v1M868.5 274v1M869.5 273v1M870.5 272v1M871.5 271v1M872.5 270v1M873.5 269v1M874.5 268v1M875.5 267v1M876.5 266v1M877.5 265v1M878.5 264v1M881.5 262v1M882.5 261v1M883.5 260v1M886.5 258v1M1030.5 239v1M1035.5 242v1M1036.5 243v1M1037.5 244v1M1038.5 245v1M1041.5 247v1M1042.5 248v1M1043.5 249v1M1044.5 250v1M1045.5 251v2M1046.5 253v1M1047.5 254v1M1048.5 255v1M1049.5 256v2M1050.5 258v1M1051.5 259v1M1052.5 260v2M1053.5 262v2M1054.5 264v1M1055.5 265v2M1056.5 267v1M1057.5 268v2M1058.5 270v2M1059.5 272v1M1060.5 273v2M1061.5 275v2M1062.5 277v2M1063.5 279v1M1064.5 280v2M1065.5 282v2M1066.5 284v2M1067.5 286v1M1068.5 287v2M1069.5 289v2M1070.5 291v2M1071.5 293v2M1072.5 295v2M1073.5 297v2M1074.5 299v2M1075.5 301v2M1076.5 303v2M1077.5 305v2M1078.5 307v3M1079.5 310v2M1080.5 312v3M1081.5 315v2M1082.5 317v2M1083.5 319v3M1084.5 322v2M1085.5 324v3M1086.5 327v2M1087.5 329v3M1088.5 332v2M1089.5 334v3M1090.5 337v2M1091.5 339v3M1092.5 342v2M1093.5 344v2M1094.5 346v2M1095.5 348v3M1096.5 351v2M1097.5 353v2M1098.5 355v2M1099.5 357v3M1100.5 360v2M1101.5 362v2M1102.5 364v2M1103.5 366v3M1104.5 369v2M1105.5 371v2M1106.5 373v2M1107.5 375v2M1108.5 377v2M1109.5 379v2M1110.5 381v2M1111.5 383v2M1112.5 385v2M1113.5 387v2M1114.5 389v2" fill="none" stroke="#ff0000" stroke-width="1"/>
<path d="M347 89.5h2M361 89.5h2M345 90.5h2M349 90.5h2M358 90.5h3M363 90.5h2M351 91.5h2M356 91.5h2M365 91.5h2M353 92.5h3M367 92.5h2M341 93.5h2M369 93.5h2M337 96.5h2M333 99.5h2M21 109.5h2M23 110.5h2M25 111.5h2M27 112.5h2M29 113.5h2M31 114.5h2M33 115.5h2M35 116.5h2M299 129.5h9M195 143.5h5M191 144.5h4M200 144.5h2M288 144.5h2M202 145.5h3M232 145.5h2M286 145.5h2M205 146.5h2M230 146.5h2M284 146.5h2M187 147.5h2M237 147.5h2M275 147.5h9M208 148.5h2M227 148.5h2M266 148.5h9M225 149.5h2M263 149.5h3M241 150.5h2M261 150.5h2M179 151.5h5M212 151.5h2M222 151.5h2M243 151.5h2M258 151.5h3M165 152.5h14M214 152.5h8M245 152.5h2M255 152.5h3M161 153.5h4M247 153.5h3M253 153.5h2M159 154.5h2M250 154.5h3M157 155.5h2M155 156.5h2M152 158.5h2M143 166.5h2M140 167.5h3M138 168.5h2M136 169.5h2M127 179.5h2M125 180.5h2M122 182.5h2M76 184.5h2M78 185.5h2M80 186.5h2M82 187.5h2M84 188.5h2M86 189.5h2M88 190.5h2M90 191.5h3M93 192.5h2M111 192.5h2M95 193.5h2M109 193.5h2M97 194.5h5M107 194.5h2M102 195.5h5M991 210.5h5M986 211.5h5M435 212.5h2M983 212.5h3M997 212.5h2M437 213.5h2M981 213.5h2M439 214.5h3M979 214.5h2M442 215.5h10M1001 215.5h2M976 216.5h2M1004 217.5h2M1007 219.5h2M1009 220.5h2M468 232.5h2M471 234.5h2M473 235.5h2M875 235.5h2M873 236.5h2M877 236.5h4M871 237.5h2M881 237.5h3M868 239.5h2M887 241.5h2M483 245.5h2M485 246.5h2M487 247.5h3M490 248.5h11M501 249.5h2M503 250.5h2M858 250.5h2M505 251.5h2M856 251.5h2M507 252.5h2M854 252.5h2M953 252.5h2M509 253.5h2M852 253.5h2M900 253.5h2M951 253.5h2M511 254.5h3M849 254.5h3M902 254.5h2M514 255.5h2M845 255.5h4M904 255.5h2M948 255.5h2M843 256.5h2M906 256.5h2M909 258.5h2M913 261.5h2M706 262.5h5M703 263.5h3M711 263.5h5M701 264.5h2M699 265.5h2M938 265.5h2M919 266.5h2M936 266.5h2M719 267.5h2M934 267.5h2M932 268.5h2M923 269.5h9M673 295.5h2M669 298.5h2M657 311.5h2M655 312.5h2M652 314.5h2M642 315.5h10M640 316.5h2M638 317.5h2M636 318.5h2M633 320.5h2M631 321.5h2M628 323.5h2M626 324.5h2M624 325.5h2M622 326.5h2M620 327.5h2M617 328.5h3M613 329.5h4M609 330.5h4M605 331.5h4M603 332.5h2M575 338.5h2M594 341.5h2M580 342.5h2M592 342.5h2M582 343.5h2M590 343.5h2M584 344.5h2M588 344.5h2M586 345.5h2M786 349.5h2M771 350.5h2M783 350.5h3M773 351.5h4M781 351.5h2M777 352.5h4M20.5 108v1M37.5 117v1M38.5 118v2M39.5 120v1M40.5 121v1M41.5 122v2M42.5 124v1M43.5 125v1M44.5 126v2M45.5 128v1M46.5 129v1M47.5 130v2M48.5 132v1M49.5 133v1M50.5 134v2M51.5 136v2M52.5 138v2M53.5 140v2M54.5 142v3M55.5 145v2M56.5 147v2M57.5 149v3M58.5 152v3M59.5 155v3M60.5 158v4M61.5 162v3M62.5 165v2M63.5 167v2M64.5 169v2M65.5 171v1M66.5 172v2M67.5 174v2M68.5 176v1M69.5 177v1M70.5 178v1M71.5 179v1M72.5 180v1M73.5 181v1M74.5 182v1M75.5 183v1M113.5 191v1M114.5 190v1M115.5 189v1M116.5 188v1M117.5 187v1M118.5 186v1M119.5 185v1M120.5 184v1M121.5 183v1M124.5 181v1M129.5 178v1M130.5 177v1M131.5 175v2M132.5 174v1M133.5 173v1M134.5 171v2M135.5 170v1M145.5 165v1M146.5 164v1M147.5 163v1M148.5 162v1M149.5 161v1M150.5 160v1M151.5 159v1M154.5 157v1M184.5 150v1M185.5 149v1M186.5 148v1M189.5 146v1M190.5 145v1M207.5 147v1M210.5 149v1M211.5 150v1M224.5 150v1M229.5 147v1M234.5 144v1M235.5 145v1M236.5 146v1M239.5 148v1M240.5 149v1M290.5 142v2M291.5 141v1M292.5 139v2M293.5 138v1M294.5 136v2M295.5 135v1M296.5 133v2M297.5 132v1M298.5 130v2M308.5 128v1M309.5 127v1M310.5 126v1M311.5 125v1M312.5 123v2M313.5 122v1M314.5 121v1M315.5 120v1M316.5 119v1M317.5 118v1M318.5 116v2M319.5 115v1M320.5 114v1M321.5 113v1M322.5 111v2M323.5 110v1M324.5 109v1M325.5 108v1M326.5 107v1M327.5 106v1M328.5 104v2M329.5 103v1M330.5 102v1M331.5 101v1M332.5 100v1M335.5 98v1M336.5 97v1M339.5 95v1M340.5 94v1M343.5 92v1M344.5 91v1M371.5 94v1M372.5 95v1M373.5 96v2M374.5 98v1M375.5 99v1M376.5 100v2M377.5 102v1M378.5 103v1M379.5 104v2M380.5 106v2M381.5 108v2M382.5 110v2M383.5 112v2M384.5 114v3M385.5 117v3M386.5 120v3M387.5 123v3M388.5 126v3M389.5 129v3M390.5 132v3M391.5 135v2M392.5 137v3M393.5 140v3M394.5 143v2M395.5 145v2M396.5 147v2M397.5 149v2M398.5 151v2M399.5 153v2M400.5 155v2M401.5 157v2M402.5 159v2M403.5 161v2M404.5 163v2M405.5 165v2M406.5 167v2M407.5 169v2M408.5 171v1M409.5 172v2M410.5 174v2M411.5 176v1M412.5 177v2M413.5 179v2M414.5 181v2M415.5 183v1M416.5 184v2M417.5 186v2M418.5 188v1M419.5 189v2M420.5 191v1M421.5 192v2M422.5 194v1M423.5 195v2M424.5 197v2M425.5 199v1M426.5 200v2M427.5 202v1M428.5 203v1M429.5 204v2M430.5 206v1M431.5 207v1M432.5 208v1M433.5 209v2M434.5 211v1M452.5 216v1M453.5 217v1M454.5 218v1M455.5 219v1M456.5 220v1M457.5 221v1M458.5 222v1M459.5 223v1M460.5 224v1M461.5 225v1M462.5 226v1M463.5 227v1M464.5 228v1M465.5 229v1M466.5 230v1M467.5 231v1M470.5 233v1M475.5 236v1M476.5 237v1M477.5 238v1M478.5 239v1M479.5 240v2M480.5 242v1M481.5 243v1M482.5 244v1M516.5 256v1M517.5 257v1M518.5 258v1M519.5 259v2M520.5 261v1M521.5 262v1M522.5 263v1M523.5 264v1M524.5 265v1M525.5 266v2M526.5 268v1M527.5 269v1M528.5 270v1M529.5 271v2M530.5 273v1M531.5 274v2M532.5 276v2M533.5 278v1M534.5 279v2M535.5 281v2M536.5 283v2M537.5 285v2M538.5 287v2M539.5 289v1M540.5 290v2M541.5 292v2M542.5 294v2M543.5 296v2M544.5 298v2M545.5 300v2M546.5 302v2M547.5 304v1M548.5 305v2M549.5 307v2M550.5 309v2M551.5 311v1M552.5 312v2M553.5 314v2M554.5 316v2M555.5 318v1M556.5 319v1M557.5 320v1M558.5 321v1M559.5 322v1M560.5 323v1M561.5 324v1M562.5 325v1M563.5 326v1M564.5 327v1M565.5 328v1M566.5 329v1M567.5 330v1M568.5 331v1M569.5 332v1M570.5 333v1M571.5 334v1M572.5 335v1M573.5 336v1M574.5 337v1M577.5 339v1M578.5 340v1M579.5 341v1M596.5 340v1M597.5 339v1M598.5 338v1M599.5 336v2M600.5 335v1M601.5 334v1M602.5 333v1M630.5 322v1M635.5 319v1M654.5 313v1M659.5 310v1M660.5 309v1M661.5 307v2M662.5 306v1M663.5 305v1M664.5 304v1M665.5 302v2M666.5 301v1M667.5 300v1M668.5 299v1M671.5 297v1M672.5 296v1M675.5 294v1M676.5 293v1M677.5 292v1M678.5 291v1M679.5 290v1M680.5 289v1M681.5 288v1M682.5 287v1M683.5 286v1M684.5 284v2M685.5 282v2M686.5 281v1M687.5 279v2M688.5 278v1M689.5 276v2M690.5 274v2M691.5 273v1M692.5 272v1M693.5 271v1M694.5 270v1M695.5 269v1M696.5 268v1M697.5 267v1M698.5 266v1M716.5 264v1M717.5 265v1M718.5 266v1M721.5 268v1M722.5 269v1M723.5 270v1M724.5 271v1M725.5 272v1M726.5 273v1M727.5 274v1M728.5 275v2M729.5 277v1M730.5 278v1M731.5 279v1M732.5 280v1M733.5 281v2M734.5 283v2M735.5 285v2M736.5 287v2M737.5 289v2M738.5 291v2M739.5 293v2M740.5 295v2M741.5 297v2M742.5 299v2M743.5 301v2M744.5 303v2M745.5 305v2M746.5 307v2M747.5 309v3M748.5 312v2M749.5 314v3M750.5 317v2M751.5 319v3M752.5 322v2M753.5 324v3M754.5 327v2M755.5 329v2M756.5 331v2M757.5 333v1M758.5 334v1M759.5 335v2M760.5 337v1M761.5 338v1M762.5 339v2M763.5 341v1M764.5 342v1M765.5 343v1M766.5 344v1M767.5 345v2M768.5 347v1M769.5 348v1M770.5 349v1M788.5 347v2M789.5 346v1M790.5 345v1M791.5 343v2M792.5 342v1M793.5 341v1M794.5 339v2M795.5 338v1M796.5 336v2M797.5 334v2M798.5 333v1M799.5 331v2M800.5 330v1M801.5 328v2M802.5 326v2M803.5 325v1M804.5 323v2M805.5 321v2M806.5 319v2M807.5 317v2M808.5 315v2M809.5 313v2M810.5 311v2M811.5 309v2M812.5 307v2M813.5 305v2M814.5 303v2M815.5 301v2M816.5 299v2M817.5 297v2M818.5 296v1M819.5 294v2M820.5 293v1M821.5 291v2M822.5 289v2M823.5 287v2M824.5 285v2M825.5 283v2M826.5 281v2M827.5 279v2M828.5 277v2M829.5 275v2M830.5 273v2M831.5 271v2M832.5 270v1M833.5 269v1M834.5 267v2M835.5 266v1M836.5 265v1M837.5 263v2M838.5 262v1M839.5 261v1M840.5 260v1M841.5 258v2M842.5 257v1M860.5 249v1M861.5 247v2M862.5 246v1M863.5 245v1M864.5 244v1M865.5 242v2M866.5 241v1M867.5 240v1M870.5 238v1M884.5 238v1M885.5 239v1M886.5 240v1M889.5 242v1M890.5 243v1M891.5 244v1M892.5 245v1M893.5 246v1M894.5 247v1M895.5 248v1M896.5 249v1M897.5 250v1M898.5 251v1M899.5 252v1M908.5 257v1M911.5 259v1M912.5 260v1M915.5 262v1M916.5 263v1M917.5 264v1M918.5 265v1M921.5 267v1M922.5 268v1M940.5 264v1M941.5 263v1M942.5 262v1M943.5 260v2M944.5 259v1M945.5 258v1M946.5 257v1M947.5 256v1M950.5 254v1M955.5 251v1M956.5 249v2M957.5 248v1M958.5 247v1M959.5 245v2M960.5 244v1M961.5 243v1M962.5 241v2M963.5 240v1M964.5 238v2M965.5 236v2M966.5 234v2M967.5 232v2M968.5 229v3M969.5 227v2M970.5 225v2M971.5 223v2M972.5 221v2M973.5 219v2M974.5 218v1M975.5 217v1M978.5 215v1M996.5 211v1M999.5 213v1M1000.5 214v1M1003.5 216v1M1006.5 218v1M1011.5 221v1M1012.5 222v1M1013.5 223v1M1014.5 224v1M1015.5 225v1M1016.5 226v1M1017.5 227v1M1018.5 228v1M1019.5 229v2M1020.5 231v3M1021.5 234v2M1022.5 236v3M1023.5 239v3M1024.5 242v3M1025.5 245v2M1026.5 247v3M1027.5 250v3M1028.5 253v2M1029.5 255v2M1030.5 257v3M1031.5 260v2M1032.5 262v3M1033.5 265v2M1034.5 267v2M1035.5 269v3M1036.5 272v2M1037.5 274v2M1038.5 276v3M1039.5 279v2M1040.5 281v3M1041.5 284v2M1042.5 286v2M1043.5 288v3M1044.5 291v2M1045.5 293v3M1046.5 296v3M1047.5 299v2M1048.5 301v3M1049.5 304v3M1050.5 307v2M1051.5 309v3M1052.5 312v2M1053.5 314v2M1054.5 316v3M1055.5 319v2M1056.5 321v3M1057.5 324v2M1058.5 326v2M1059.5 328v3M1060.5 331v3M1061.5 334v3M1062.5 337v3M1063.5 340v2M1064.5 342v3M1065.5 345v3M1066.5 348v3M1067.5 351v3M1068.5 354v2M1069.5 356v3M1070.5 359v3M1071.5 362v2M1072.5 364v3M1073.5 367v3M1074.5 370v2M1075.5 372v3M1076.5 375v2M1077.5 377v2M1078.5 379v2M1079.5 381v2M1080.5 383v2M1081.5 385v2M1082.5 387v2M1083.5 389v3M1084.5 392v2M1085.5 394v2M1086.5 396v2M1087.5 398v2M1088.5 400v2M1089.5 402v2M1090.5 404v2M1091.5 406v3M1092.5 409v2M1093.5 411v3M1094.5 414v3M1095.5 417v2M1096.5 419v3M1097.5 422v3M1098.5 425v2M1099.5 427v2M1100.5 429v2M1101.5 431v2M1102.5 433v2M1103.5 435v2M1104.5 437v2M1105.5 439v2M1106.5 441v2M1107.5 443v2M1108.5 445v1M1109.5 446v1M1110.5 447v1M1111.5 448v1M1112.5 449v1M1113.5 450v1M1114.5 451v1M1115.5 452v1" fill="none" stroke="#0000cd" stroke-width="1"/>
<rect x="2" y="22" width="1417" height="1" fill="#000"/>
<rect x="2" y="22" width="1" height="540" fill="#000"/>
<rect x="2" y="561" width="1417" height="1" fill="#000"/>
<rect x="1418" y="22" width="1" height="777" fill="#000"/>
<rect x="2" y="563" width="1417" height="1" fill="#000"/>
<rect x="2" y="563" width="1" height="104" fill="#000"/>
<rect x="2" y="666" width="1417" height="1" fill="#000"/>
<rect x="2" y="668" width="1417" height="1" fill="#000"/>
<rect x="2" y="668" width="1" height="131" fill="#000"/>
<rect x="2" y="798" width="1417" height="1" fill="#000"/>
<rect x="3" y="147" width="1417" height="3" fill="#ff0000"/>
<rect x="3" y="288" width="1417" height="3" fill="#ff0000"/>
<rect x="3" y="402" width="1417" height="3" fill="#00ff00"/>
<rect x="2" y="286" width="7" height="7" fill="#ff0000"/>
<rect x="5" y="289" width="1" height="1" fill="#fff"/>
<rect x="1412" y="286" width="7" height="7" fill="#ff0000"/>
<rect x="1415" y="289" width="1" height="1" fill="#fff"/>
<rect x="2" y="400" width="7" height="7" fill="#00ff00"/>
<rect x="5" y="403" width="1" height="1" fill="#fff"/>
<rect x="1412" y="400" width="7" height="7" fill="#00ff00"/>
<rect x="1415" y="403" width="1" height="1" fill="#fff"/>
<polygon points="1129,23 1138,23 1133.5,27.5" fill="#c0c0c0"/>
<rect x="3" y="593" width="1" height="2" fill="#c0c0c0"/>
<rect x="11" y="594" width="1" height="1" fill="#c0c0c0"/>
<rect x="19" y="594" width="1" height="2" fill="#c0c0c0"/>
<rect x="27" y="594" width="1" height="7" fill="#c0c0c0"/>
<rect x="35" y="594" width="1" height="11" fill="#c0c0c0"/>
<rect x="43" y="594" width="1" height="12" fill="#c0c0c0"/>
<rect x="51" y="594" width="1" height="14" fill="#c0c0c0"/>
<rect x="59" y="594" width="1" height="22" fill="#c0c0c0"/>
<rect x="67" y="594" width="1" height="27" fill="#c0c0c0"/>
<rect x="75" y="594" width="1" height="28" fill="#c0c0c0"/>
<rect x="83" y="594" width="1" height="31" fill="#c0c0c0"/>
<rect x="91" y="594" width="1" height="29" fill="#c0c0c0"/>
<rect x="99" y="594" width="1" height="28" fill="#c0c0c0"/>
<rect x="107" y="594" width="1" height="25" fill="#c0c0c0"/>
<rect x="115" y="594" width="1" height="24" fill="#c0c0c0"/>
<rect x="123" y="594" width="1" height="20" fill="#c0c0c0"/>
<rect x="131" y="594" width="1" height="19" fill="#c0c0c0"/>
<rect x="139" y="594" width="1" height="16" fill="#c0c0c0"/>
<rect x="147" y="594" width="1" height="13" fill="#c0c0c0"/>
<rect x="155" y="594" width="1" height="8" fill="#c0c0c0"/>
<rect x="163" y="594" width="1" height="6" fill="#c0c0c0"/>
<rect x="171" y="594" width="1" height="6" fill="#c0c0c0"/>
<rect x="179" y="594" width="1" height="6" fill="#c0c0c0"/>
<rect x="187" y="594" width="1" height="4" fill="#c0c0c0"/>
<rect x="195" y="594" width="1" height="1" fill="#c0c0c0"/>
<rect x="203" y="594" width="1" height="1" fill="#c0c0c0"/>
<rect x="211" y="594" width="1" height="2" fill="#c0c0c0"/>
<rect x="219" y="594" width="1" height="2" fill="#c0c0c0"/>
<rect x="227" y="594" width="1" height="1" fill="#c0c0c0"/>
<rect x="235" y="594" width="1" height="1" fill="#c0c0c0"/>
<rect x="243" y="594" width="1" height="1" fill="#c0c0c0"/>
<rect x="251" y="594" width="1" height="1" fill="#c0c0c0"/>
<rect x="259" y="594" width="1" height="1" fill="#c0c0c0"/>
<rect x="267" y="594" width="1" height="1" fill="#c0c0c0"/>
<rect x="275" y="594" width="1" height="1" fill="#c0c0c0"/>
<rect x="283" y="592" width="1" height="3" fill="#c0c0c0"/>
<rect x="291" y="590" width="1" height="5" fill="#c0c0c0"/>
<rect x="299" y="585" width="1" height="10" fill="#c0c0c0"/>
<rect x="307" y="585" width="1" height="10" fill="#c0c0c0"/>
<rect x="315" y="581" width="1" height="14" fill="#c0c0c0"/>
<rect x="323" y="578" width="1" height="17" fill="#c0c0c0"/>
<rect x="331" y="575" width="1" height="20" fill="#c0c0c0"/>
<rect x="339" y="575" width="1" height="20" fill="#c0c0c0"/>
<rect x="347" y="573" width="1" height="22" fill="#c0c0c0"/>
<rect x="355" y="575" width="1" height="20" fill="#c0c0c0"/>
<rect x="363" y="577" width="1" height="18" fill="#c0c0c0"/>
<rect x="371" y="579" width="1" height="16" fill="#c0c0c0"/>
<rect x="379" y="584" width="1" height="11" fill="#c0c0c0"/>
<rect x="387" y="594" width="1" height="1" fill="#c0c0c0"/>
<rect x="395" y="594" width="1" height="11" fill="#c0c0c0"/>
<rect x="403" y="594" width="1" height="15" fill="#c0c0c0"/>
<rect x="411" y="594" width="1" height="19" fill="#c0c0c0"/>
<rect x="419" y="594" width="1" height="20" fill="#c0c0c0"/>
<rect x="427" y="594" width="1" height="22" fill="#c0c0c0"/>
<rect x="435" y="594" width="1" height="26" fill="#c0c0c0"/>
<rect x="443" y="594" width="1" height="30" fill="#c0c0c0"/>
<rect x="451" y="594" width="1" height="31" fill="#c0c0c0"/>
<rect x="459" y="594" width="1" height="36" fill="#c0c0c0"/>
<rect x="467" y="594" width="1" height="37" fill="#c0c0c0"/>
<rect x="475" y="594" width="1" height="37" fill="#c0c0c0"/>
<rect x="483" y="594" width="1" height="37" fill="#c0c0c0"/>
<rect x="491" y="594" width="1" height="37" fill="#c0c0c0"/>
<rect x="499" y="594" width="1" height="35" fill="#c0c0c0"/>
<rect x="507" y="594" width="1" height="36" fill="#c0c0c0"/>
<rect x="515" y="594" width="1" height="38" fill="#c0c0c0"/>
<rect x="523" y="594" width="1" height="42" fill="#c0c0c0"/>
<rect x="531" y="594" width="1" height="45" fill="#c0c0c0"/>
<rect x="539" y="594" width="1" height="49" fill="#c0c0c0"/>
<rect x="547" y="594" width="1" height="54" fill="#c0c0c0"/>
<rect x="555" y="594" width="1" height="54" fill="#c0c0c0"/>
<rect x="563" y="594" width="1" height="52" fill="#c0c0c0"/>
<rect x="571" y="594" width="1" height="54" fill="#c0c0c0"/>
<rect x="579" y="594" width="1" height="54" fill="#c0c0c0"/>
<rect x="587" y="594" width="1" height="51" fill="#c0c0c0"/>
<rect x="595" y="594" width="1" height="47" fill="#c0c0c0"/>
<rect x="603" y="594" width="1" height="44" fill="#c0c0c0"/>
<rect x="611" y="594" width="1" height="41" fill="#c0c0c0"/>
<rect x="619" y="594" width="1" height="36" fill="#c0c0c0"/>
<rect x="627" y="594" width="1" height="34" fill="#c0c0c0"/>
<rect x="635" y="594" width="1" height="33" fill="#c0c0c0"/>
<rect x="643" y="594" width="1" height="28" fill="#c0c0c0"/>
<rect x="651" y="594" width="1" height="26" fill="#c0c0c0"/>
<rect x="659" y="594" width="1" height="20" fill="#c0c0c0"/>
<rect x="667" y="594" width="1" height="12" fill="#c0c0c0"/>
<rect x="675" y="594" width="1" height="9" fill="#c0c0c0"/>
<rect x="683" y="594" width="1" height="6" fill="#c0c0c0"/>
<rect x="691" y="594" width="1" height="1" fill="#c0c0c0"/>
<rect x="699" y="592" width="1" height="3" fill="#c0c0c0"/>
<rect x="707" y="593" width="1" height="2" fill="#c0c0c0"/>
<rect x="715" y="593" width="1" height="2" fill="#c0c0c0"/>
<rect x="723" y="594" width="1" height="1" fill="#c0c0c0"/>
<rect x="731" y="594" width="1" height="4" fill="#c0c0c0"/>
<rect x="739" y="594" width="1" height="12" fill="#c0c0c0"/>
<rect x="747" y="594" width="1" height="17" fill="#c0c0c0"/>
<rect x="755" y="594" width="1" height="23" fill="#c0c0c0"/>
<rect x="763" y="594" width="1" height="24" fill="#c0c0c0"/>
<rect x="771" y="594" width="1" height="25" fill="#c0c0c0"/>
<rect x="779" y="594" width="1" height="20" fill="#c0c0c0"/>
<rect x="787" y="594" width="1" height="18" fill="#c0c0c0"/>
<rect x="795" y="594" width="1" height="13" fill="#c0c0c0"/>
<rect x="803" y="594" width="1" height="8" fill="#c0c0c0"/>
<rect x="811" y="594" width="1" height="4" fill="#c0c0c0"/>
<rect x="819" y="594" width="1" height="1" fill="#c0c0c0"/>
<rect x="827" y="588" width="1" height="7" fill="#c0c0c0"/>
<rect x="835" y="582" width="1" height="13" fill="#c0c0c0"/>
<rect x="843" y="577" width="1" height="18" fill="#c0c0c0"/>
<rect x="851" y="579" width="1" height="16" fill="#c0c0c0"/>
<rect x="859" y="578" width="1" height="17" fill="#c0c0c0"/>
<rect x="867" y="574" width="1" height="21" fill="#c0c0c0"/>
<rect x="875" y="572" width="1" height="23" fill="#c0c0c0"/>
<rect x="883" y="574" width="1" height="21" fill="#c0c0c0"/>
<rect x="891" y="577" width="1" height="18" fill="#c0c0c0"/>
<rect x="899" y="579" width="1" height="16" fill="#c0c0c0"/>
<rect x="907" y="585" width="1" height="10" fill="#c0c0c0"/>
<rect x="915" y="587" width="1" height="8" fill="#c0c0c0"/>
<rect x="923" y="588" width="1" height="7" fill="#c0c0c0"/>
<rect x="931" y="584" width="1" height="11" fill="#c0c0c0"/>
<rect x="939" y="581" width="1" height="14" fill="#c0c0c0"/>
<rect x="947" y="578" width="1" height="17" fill="#c0c0c0"/>
<rect x="955" y="577" width="1" height="18" fill="#c0c0c0"/>
<rect x="963" y="577" width="1" height="18" fill="#c0c0c0"/>
<rect x="971" y="572" width="1" height="23" fill="#c0c0c0"/>
<rect x="979" y="571" width="1" height="24" fill="#c0c0c0"/>
<rect x="987" y="570" width="1" height="25" fill="#c0c0c0"/>
<rect x="995" y="571" width="1" height="24" fill="#c0c0c0"/>
<rect x="1003" y="575" width="1" height="20" fill="#c0c0c0"/>
<rect x="1011" y="580" width="1" height="15" fill="#c0c0c0"/>
<rect x="1019" y="587" width="1" height="8" fill="#c0c0c0"/>
<rect x="1027" y="594" width="1" height="1" fill="#c0c0c0"/>
<rect x="1035" y="594" width="1" height="8" fill="#c0c0c0"/>
<rect x="1043" y="594" width="1" height="14" fill="#c0c0c0"/>
<rect x="1051" y="594" width="1" height="21" fill="#c0c0c0"/>
<rect x="1059" y="594" width="1" height="29" fill="#c0c0c0"/>
<rect x="1067" y="594" width="1" height="39" fill="#c0c0c0"/>
<rect x="1075" y="594" width="1" height="46" fill="#c0c0c0"/>
<rect x="1083" y="594" width="1" height="52" fill="#c0c0c0"/>
<rect x="1091" y="594" width="1" height="59" fill="#c0c0c0"/>
<rect x="1099" y="594" width="1" height="64" fill="#c0c0c0"/>
<rect x="1107" y="594" width="1" height="67" fill="#c0c0c0"/>
<rect x="1115" y="594" width="1" height="67" fill="#c0c0c0"/>
<path d="M994 574.5h2M999 574.5h3M1005 574.5h3M1011 574.5h3M1017 575.5h3M375 576.5h3M897 576.5h3M903 576.5h3M909 576.5h2M1023 576.5h3M363 577.5h3M369 577.5h3M381 577.5h3M891 577.5h3M915 577.5h3M987 577.5h2M1029 577.5h2M357 578.5h2M387 578.5h2M885 578.5h3M921 578.5h3M981 578.5h2M351 579.5h3M927 579.5h3M933 579.5h2M975 579.5h2M879 580.5h3M939 580.5h3M945 580.5h3M969 580.5h3M1036 580.5h2M345 581.5h3M394 581.5h2M951 581.5h3M957 581.5h3M963 581.5h3M874 582.5h2M339 583.5h2M399 583.5h3M1042 583.5h2M333 584.5h2M327 585.5h3M867 585.5h2M321 587.5h3M862 587.5h2M315 589.5h2M309 590.5h3M412 590.5h2M856 590.5h2M303 591.5h3M1053 591.5h2M297 592.5h3M291 593.5h3M418 593.5h2M850 593.5h2M279 594.5h3M285 594.5h2M243 595.5h3M249 595.5h3M255 595.5h3M261 595.5h3M267 595.5h3M273 595.5h3M225 596.5h3M231 596.5h3M237 596.5h2M844 596.5h2M219 597.5h3M729 597.5h3M735 597.5h3M741 597.5h2M15 598.5h3M21 598.5h3M27 598.5h3M33 598.5h3M213 598.5h3M747 598.5h2M9 599.5h3M39 599.5h3M45 599.5h2M723 599.5h2M51 600.5h2M207 600.5h2M753 600.5h3M1065 600.5h2M3 601.5h2M202 601.5h2M718 601.5h2M759 601.5h3M837 601.5h2M57 602.5h3M765 602.5h2M63 603.5h2M195 604.5h2M711 604.5h2M831 604.5h3M189 605.5h2M436 605.5h2M706 605.5h2M772 605.5h2M1071 605.5h2M70 606.5h2M183 606.5h2M826 606.5h2M178 607.5h2M441 608.5h2M700 608.5h2M778 608.5h2M76 609.5h2M783 609.5h2M819 609.5h2M171 610.5h2M813 610.5h3M165 611.5h3M789 611.5h3M807 611.5h3M82 612.5h2M448 612.5h2M795 612.5h3M801 612.5h3M159 613.5h3M87 614.5h3M153 615.5h3M454 615.5h2M688 615.5h2M93 616.5h3M99 617.5h2M147 617.5h2M459 617.5h2M141 618.5h3M682 618.5h2M105 619.5h3M135 619.5h3M111 620.5h3M117 620.5h2M129 620.5h3M466 620.5h2M123 621.5h3M676 621.5h2M471 622.5h3M477 624.5h3M670 624.5h2M483 625.5h2M489 627.5h3M663 627.5h3M495 628.5h3M501 628.5h2M507 629.5h3M658 629.5h2M513 630.5h3M519 631.5h2M525 632.5h2M651 632.5h2M531 633.5h3M537 634.5h3M645 634.5h2M543 635.5h3M549 636.5h2M639 636.5h3M555 638.5h2M634 638.5h2M1108 639.5h2M561 640.5h3M567 641.5h3M627 641.5h2M573 642.5h2M621 642.5h3M1114 642.5h2M579 644.5h3M615 644.5h2M585 645.5h3M609 645.5h3M591 646.5h3M597 646.5h3M603 646.5h3M5.5 600v1M47.5 600v1M53.5 601v1M65.5 604v1M69.5 605v1M75.5 608v1M81.5 611v1M101.5 618v1M119.5 621v1M149.5 616v1M173.5 609v1M177.5 608v1M185.5 605v1M191.5 604v1M197.5 603v1M201.5 602v1M209.5 599v1M239.5 595v1M287.5 593v1M317.5 588v1M335.5 583v1M341.5 582v1M359.5 577v1M389.5 579v1M393.5 580v1M405.5 585v1M406.5 586v1M407.5 587v1M411.5 589v1M417.5 592v1M423.5 596v1M424.5 597v1M425.5 598v1M429.5 600v1M430.5 601v1M431.5 602v1M435.5 604v1M443.5 609v1M447.5 611v1M453.5 614v1M461.5 618v1M465.5 619v1M485.5 626v1M503.5 629v1M521.5 632v1M527.5 633v1M551.5 637v1M557.5 639v1M575.5 643v1M617.5 643v1M629.5 640v1M633.5 639v1M647.5 633v1M653.5 631v1M657.5 630v1M669.5 625v1M675.5 622v1M681.5 619v1M687.5 616v1M693.5 613v1M694.5 612v1M695.5 611v1M699.5 609v1M705.5 606v1M713.5 603v1M717.5 602v1M725.5 598v1M743.5 598v1M749.5 599v1M767.5 603v1M771.5 604v1M777.5 607v1M785.5 610v1M821.5 608v1M825.5 607v1M839.5 600v1M843.5 597v1M849.5 594v1M855.5 591v1M861.5 588v1M869.5 584v1M873.5 583v1M911.5 577v1M935.5 580v1M977.5 578v1M983.5 577v1M989.5 576v1M993.5 575v1M1031.5 578v1M1035.5 579v1M1041.5 582v1M1047.5 586v1M1048.5 587v1M1049.5 588v1M1055.5 592v1M1059.5 595v1M1060.5 596v1M1061.5 597v1M1067.5 601v1M1073.5 606v1M1077.5 610v1M1078.5 611v1M1079.5 612v1M1083.5 616v1M1084.5 617v1M1085.5 618v1M1089.5 621v1M1090.5 622v1M1091.5 623v1M1095.5 627v1M1096.5 628v1M1097.5 629v1M1101.5 633v1M1102.5 634v1M1103.5 635v1M1107.5 638v1M1113.5 641v1" fill="none" stroke="#ff0000" stroke-width="1"/>
<rect x="787" y="565" width="1" height="5" fill="#ff0000"/>
<line x1="4" y1="708.5" x2="1418" y2="708.5" stroke="#c0c0c0" stroke-dasharray="3 3"/>
<line x1="4" y1="759.5" x2="1418" y2="759.5" stroke="#c0c0c0" stroke-dasharray="3 3"/>
<path d="M834 715.5h10M831 716.5h3M829 717.5h2M826 718.5h3M824 719.5h2M867 719.5h4M822 720.5h2M865 720.5h2M871 720.5h5M973 720.5h2M820 721.5h2M946 721.5h2M315 722.5h18M345 722.5h3M691 722.5h2M943 722.5h3M948 722.5h2M333 723.5h4M341 723.5h4M693 723.5h2M817 723.5h2M861 723.5h2M931 723.5h4M941 723.5h2M977 723.5h2M337 724.5h4M695 724.5h3M815 724.5h2M935 724.5h6M951 724.5h2M979 724.5h10M665 725.5h2M687 725.5h2M698 725.5h2M953 725.5h2M989 725.5h2M194 726.5h2M351 726.5h2M663 726.5h2M669 726.5h2M802 726.5h5M812 726.5h2M857 726.5h2M955 726.5h2M991 726.5h3M191 727.5h3M800 727.5h2M807 727.5h5M957 727.5h4M994 727.5h2M189 728.5h2M287 728.5h5M660 728.5h2M798 728.5h2M961 728.5h3M187 729.5h2M282 729.5h5M355 729.5h9M673 729.5h2M679 729.5h5M796 729.5h2M853 729.5h2M159 730.5h2M251 730.5h2M280 730.5h2M364 730.5h2M675 730.5h4M794 730.5h2M851 730.5h2M225 731.5h11M253 731.5h4M278 731.5h2M366 731.5h2M792 731.5h2M883 731.5h10M999 731.5h2M221 732.5h4M257 732.5h6M276 732.5h2M368 732.5h2M790 732.5h2M893 732.5h4M922 732.5h2M138 733.5h3M218 733.5h3M263 733.5h13M370 733.5h2M788 733.5h2M897 733.5h3M919 733.5h3M135 734.5h3M141 734.5h4M164 734.5h2M216 734.5h2M707 734.5h9M783 734.5h5M917 734.5h2M133 735.5h2M145 735.5h3M166 735.5h2M214 735.5h2M779 735.5h4M915 735.5h2M1004 735.5h2M122 736.5h11M168 736.5h2M212 736.5h2M717 736.5h2M1006 736.5h2M105 737.5h2M108 737.5h2M120 737.5h2M170 737.5h10M203 737.5h9M643 737.5h2M1008 737.5h2M103 738.5h2M110 738.5h2M118 738.5h2M645 738.5h4M911 738.5h2M1010 738.5h2M112 739.5h2M116 739.5h2M649 739.5h3M721 739.5h2M1012 739.5h2M35 740.5h4M91 740.5h4M100 740.5h2M114 740.5h2M1014 740.5h2M33 741.5h2M39 741.5h8M95 741.5h5M595 741.5h4M724 741.5h2M1016 741.5h2M20 742.5h2M31 742.5h2M47 742.5h5M599 742.5h6M617 742.5h4M726 742.5h2M1018 742.5h2M22 743.5h2M87 743.5h2M605 743.5h4M613 743.5h4M621 743.5h4M728 743.5h2M24 744.5h2M28 744.5h2M418 744.5h5M609 744.5h4M625 744.5h4M730 744.5h2M767 744.5h5M26 745.5h2M75 745.5h2M415 745.5h3M423 745.5h5M629 745.5h2M763 745.5h4M73 746.5h2M77 746.5h4M413 746.5h2M474 746.5h3M498 746.5h3M631 746.5h3M81 747.5h3M407 747.5h6M429 747.5h2M472 747.5h2M477 747.5h4M495 747.5h3M501 747.5h2M634 747.5h2M403 748.5h4M470 748.5h2M481 748.5h6M493 748.5h2M503 748.5h3M69 749.5h2M401 749.5h2M468 749.5h2M487 749.5h6M506 749.5h2M746 749.5h2M59 750.5h4M433 750.5h2M744 750.5h2M748 750.5h2M1027 750.5h12M63 751.5h5M447 751.5h2M465 751.5h2M509 751.5h2M561 751.5h2M564 751.5h2M585 751.5h2M742 751.5h2M1039 751.5h5M397 752.5h2M436 752.5h2M455 752.5h2M463 752.5h2M559 752.5h2M740 752.5h2M751 752.5h2M1044 752.5h2M438 753.5h2M567 753.5h2M753 753.5h2M1046 753.5h2M391 754.5h5M440 754.5h2M460 754.5h2M513 754.5h2M556 754.5h2M569 754.5h2M581 754.5h2M1048 754.5h2M387 755.5h4M442 755.5h2M515 755.5h2M571 755.5h4M1050 755.5h2M517 756.5h4M575 756.5h5M1052 756.5h2M521 757.5h6M1054 757.5h2M527 758.5h5M1056 758.5h2M532 759.5h2M1058 759.5h2M1060 760.5h2M535 761.5h2M537 762.5h2M1063 762.5h2M539 763.5h2M1065 763.5h2M541 764.5h2M1067 764.5h12M1113 764.5h2M543 765.5h3M1079 765.5h6M1111 765.5h2M546 766.5h2M1085 766.5h2M1087 767.5h3M1108 767.5h2M1090 768.5h18M3.5 724v1M4.5 725v1M5.5 726v1M6.5 727v1M7.5 728v2M8.5 730v1M9.5 731v1M10.5 732v1M11.5 733v1M12.5 734v1M13.5 735v1M14.5 736v1M15.5 737v1M16.5 738v1M17.5 739v1M18.5 740v1M19.5 741v1M30.5 743v1M52.5 743v1M53.5 744v1M54.5 745v1M55.5 746v1M56.5 747v1M57.5 748v1M58.5 749v1M68.5 750v1M71.5 748v1M72.5 747v1M84.5 746v1M85.5 745v1M86.5 744v1M89.5 742v1M90.5 741v1M102.5 739v1M107.5 736v1M148.5 734v1M149.5 733v1M150.5 732v1M151.5 730v2M152.5 729v1M153.5 728v1M154.5 727v1M155.5 726v1M156.5 727v1M157.5 728v1M158.5 729v1M161.5 731v1M162.5 732v1M163.5 733v1M180.5 736v1M181.5 735v1M182.5 734v1M183.5 733v1M184.5 732v1M185.5 731v1M186.5 730v1M196.5 727v2M197.5 729v1M198.5 730v1M199.5 731v2M200.5 733v1M201.5 734v1M202.5 735v2M236.5 732v2M237.5 734v1M238.5 735v1M239.5 736v2M240.5 738v1M241.5 739v1M242.5 740v2M243.5 742v1M244.5 740v2M245.5 739v1M246.5 737v2M247.5 736v1M248.5 734v2M249.5 733v1M250.5 731v2M292.5 727v1M293.5 726v1M294.5 725v1M295.5 723v2M296.5 722v1M297.5 721v1M298.5 720v1M299.5 719v1M300.5 720v2M301.5 722v1M302.5 723v1M303.5 724v2M304.5 726v1M305.5 727v1M306.5 728v2M307.5 730v1M308.5 729v1M309.5 728v1M310.5 727v1M311.5 726v1M312.5 725v1M313.5 724v1M314.5 723v1M348.5 723v1M349.5 724v1M350.5 725v1M353.5 727v1M354.5 728v1M372.5 734v1M373.5 735v1M374.5 736v1M375.5 737v1M376.5 738v1M377.5 739v1M378.5 740v1M379.5 741v1M380.5 742v2M381.5 744v2M382.5 746v2M383.5 748v1M384.5 749v2M385.5 751v2M386.5 753v2M396.5 753v1M399.5 751v1M400.5 750v1M428.5 746v1M431.5 748v1M432.5 749v1M435.5 751v1M444.5 754v1M445.5 753v1M446.5 752v1M449.5 750v1M450.5 749v1M451.5 748v1M452.5 749v1M453.5 750v1M454.5 751v1M457.5 753v1M458.5 754v1M459.5 755v1M462.5 753v1M467.5 750v1M508.5 750v1M511.5 752v1M512.5 753v1M534.5 760v1M548.5 764v2M549.5 763v1M550.5 762v1M551.5 760v2M552.5 759v1M553.5 758v1M554.5 756v2M555.5 755v1M558.5 753v1M563.5 750v1M566.5 752v1M580.5 755v1M583.5 753v1M584.5 752v1M587.5 750v1M588.5 749v1M589.5 748v1M590.5 747v1M591.5 745v2M592.5 744v1M593.5 743v1M594.5 742v1M636.5 746v1M637.5 744v2M638.5 743v1M639.5 742v1M640.5 741v1M641.5 739v2M642.5 738v1M652.5 738v1M653.5 736v2M654.5 735v1M655.5 734v1M656.5 733v1M657.5 731v2M658.5 730v1M659.5 729v1M662.5 727v1M667.5 724v1M668.5 725v1M671.5 727v1M672.5 728v1M684.5 728v1M685.5 727v1M686.5 726v1M689.5 724v1M690.5 723v1M700.5 726v1M701.5 727v1M702.5 728v1M703.5 729v2M704.5 731v1M705.5 732v1M706.5 733v1M716.5 735v1M719.5 737v1M720.5 738v1M723.5 740v1M732.5 745v1M733.5 746v1M734.5 747v1M735.5 748v2M736.5 750v1M737.5 751v1M738.5 752v1M739.5 753v1M750.5 751v1M755.5 754v1M756.5 753v1M757.5 752v1M758.5 751v1M759.5 749v2M760.5 748v1M761.5 747v1M762.5 746v1M772.5 743v1M773.5 742v1M774.5 741v1M775.5 739v2M776.5 738v1M777.5 737v1M778.5 736v1M814.5 725v1M819.5 722v1M844.5 716v2M845.5 718v2M846.5 720v2M847.5 722v2M848.5 724v2M849.5 726v2M850.5 728v2M851.5 731v1M855.5 728v1M856.5 727v1M859.5 725v1M860.5 724v1M863.5 722v1M864.5 721v1M876.5 721v2M877.5 723v1M878.5 724v1M879.5 725v2M880.5 727v1M881.5 728v1M882.5 729v2M900.5 734v1M901.5 735v1M902.5 736v1M903.5 737v2M904.5 739v1M905.5 740v1M906.5 741v1M907.5 742v1M908.5 741v1M909.5 740v1M910.5 739v1M913.5 737v1M914.5 736v1M924.5 731v1M925.5 730v1M926.5 729v1M927.5 727v2M928.5 726v1M929.5 725v1M930.5 724v1M950.5 723v1M964.5 727v1M965.5 725v2M966.5 724v1M967.5 723v1M968.5 722v1M969.5 720v2M970.5 719v1M971.5 718v1M972.5 719v1M975.5 721v1M976.5 722v1M996.5 728v1M997.5 729v1M998.5 730v1M1001.5 732v1M1002.5 733v1M1003.5 734v1M1020.5 743v1M1021.5 744v1M1022.5 745v1M1023.5 746v1M1024.5 747v1M1025.5 748v1M1026.5 749v1M1062.5 761v1M1110.5 766v1M1115.5 763v1" fill="none" stroke="#1e90ff" stroke-width="1"/>
<rect x="1419" y="30" width="2" height="1" fill="#000"/>
<rect x="1419" y="63" width="2" height="1" fill="#000"/>
<rect x="1419" y="96" width="2" height="1" fill="#000"/>
<rect x="1419" y="129" width="2" height="1" fill="#000"/>
<rect x="1419" y="162" width="2" height="1" fill="#000"/>
<rect x="1419" y="195" width="2" height="1" fill="#000"/>
<rect x="1419" y="228" width="2" height="1" fill="#000"/>
<rect x="1419" y="261" width="2" height="1" fill="#000"/>
<rect x="1419" y="294" width="2" height="1" fill="#000"/>
<rect x="1419" y="327" width="2" height="1" fill="#000"/>
<rect x="1419" y="360" width="2" height="1" fill="#000"/>
<rect x="1419" y="393" width="2" height="1" fill="#000"/>
<rect x="1419" y="426" width="2" height="1" fill="#000"/>
<rect x="1419" y="459" width="2" height="1" fill="#000"/>
<rect x="1419" y="492" width="2" height="1" fill="#000"/>
<rect x="1419" y="525" width="2" height="1" fill="#000"/>
<rect x="1419" y="558" width="2" height="1" fill="#000"/>
<rect x="1419" y="565" width="1" height="1" fill="#000"/>
<rect x="1419" y="594" width="1" height="1" fill="#000"/>
<rect x="1419" y="665" width="1" height="1" fill="#000"/>
<rect x="1419" y="670" width="1" height="1" fill="#000"/>
<rect x="1419" y="796" width="1" height="1" fill="#000"/>
<rect x="3" y="799" width="1" height="4" fill="#000"/>
<rect x="67" y="799" width="1" height="4" fill="#000"/>
<rect x="131" y="799" width="1" height="4" fill="#000"/>
<rect x="195" y="799" width="1" height="4" fill="#000"/>
<rect x="259" y="799" width="1" height="4" fill="#000"/>
<rect x="323" y="799" width="1" height="4" fill="#000"/>
<rect x="387" y="799" width="1" height="4" fill="#000"/>
<rect x="451" y="799" width="1" height="4" fill="#000"/>
<rect x="515" y="799" width="1" height="4" fill="#000"/>
<rect x="579" y="799" width="1" height="4" fill="#000"/>
<rect x="643" y="799" width="1" height="4" fill="#000"/>
<rect x="707" y="799" width="1" height="4" fill="#000"/>
<rect x="771" y="799" width="1" height="4" fill="#000"/>
<rect x="835" y="799" width="1" height="4" fill="#000"/>
<rect x="899" y="799" width="1" height="4" fill="#000"/>
<rect x="963" y="799" width="1" height="4" fill="#000"/>
<rect x="1027" y="799" width="1" height="4" fill="#000"/>
<rect x="1091" y="799" width="1" height="4" fill="#000"/>
</g>
<text x="1424" y="34.0" font-size="10.2" fill="#000" textLength="33" lengthAdjust="spacingAndGlyphs" stroke="#000" stroke-width="0.18">0.72250</text>
<text x="1424" y="67.0" font-size="10.2" fill="#000" textLength="33" lengthAdjust="spacingAndGlyphs" stroke="#000" stroke-width="0.18">0.71900</text>
<text x="1424" y="100.0" font-size="10.2" fill="#000" textLength="33" lengthAdjust="spacingAndGlyphs" stroke="#000" stroke-width="0.18">0.71550</text>
<text x="1424" y="133.0" font-size="10.2" fill="#000" textLength="33" lengthAdjust="spacingAndGlyphs" stroke="#000" stroke-width="0.18">0.71200</text>
<text x="1424" y="166.0" font-size="10.2" fill="#000" textLength="33" lengthAdjust="spacingAndGlyphs" stroke="#000" stroke-width="0.18">0.70850</text>
<text x="1424" y="199.0" font-size="10.2" fill="#000" textLength="33" lengthAdjust="spacingAndGlyphs" stroke="#000" stroke-width="0.18">0.70500</text>
<text x="1424" y="232.0" font-size="10.2" fill="#000" textLength="33" lengthAdjust="spacingAndGlyphs" stroke="#000" stroke-width="0.18">0.70150</text>
<text x="1424" y="265.0" font-size="10.2" fill="#000" textLength="33" lengthAdjust="spacingAndGlyphs" stroke="#000" stroke-width="0.18">0.69800</text>
<text x="1424" y="298.0" font-size="10.2" fill="#000" textLength="33" lengthAdjust="spacingAndGlyphs" stroke="#000" stroke-width="0.18">0.69450</text>
<text x="1424" y="331.0" font-size="10.2" fill="#000" textLength="33" lengthAdjust="spacingAndGlyphs" stroke="#000" stroke-width="0.18">0.69100</text>
<text x="1424" y="364.0" font-size="10.2" fill="#000" textLength="33" lengthAdjust="spacingAndGlyphs" stroke="#000" stroke-width="0.18">0.68750</text>
<text x="1424" y="397.0" font-size="10.2" fill="#000" textLength="33" lengthAdjust="spacingAndGlyphs" stroke="#000" stroke-width="0.18">0.68400</text>
<text x="1424" y="430.0" font-size="10.2" fill="#000" textLength="33" lengthAdjust="spacingAndGlyphs" stroke="#000" stroke-width="0.18">0.68050</text>
<text x="1424" y="463.0" font-size="10.2" fill="#000" textLength="33" lengthAdjust="spacingAndGlyphs" stroke="#000" stroke-width="0.18">0.67710</text>
<text x="1424" y="496.0" font-size="10.2" fill="#000" textLength="33" lengthAdjust="spacingAndGlyphs" stroke="#000" stroke-width="0.18">0.67360</text>
<text x="1424" y="529.0" font-size="10.2" fill="#000" textLength="33" lengthAdjust="spacingAndGlyphs" stroke="#000" stroke-width="0.18">0.67010</text>
<text x="1424" y="562.0" font-size="10.2" fill="#000" textLength="33" lengthAdjust="spacingAndGlyphs" stroke="#000" stroke-width="0.18">0.66660</text>
<rect x="1420" y="142" width="41" height="11" fill="#ff0000" shape-rendering="crispEdges"/>
<text x="1424" y="151" font-size="10.2" fill="#fff" textLength="33" lengthAdjust="spacingAndGlyphs">0.71005</text>
<rect x="1420" y="283" width="41" height="11" fill="#ff0000" shape-rendering="crispEdges"/>
<text x="1424" y="292" font-size="10.2" fill="#fff" textLength="33" lengthAdjust="spacingAndGlyphs">0.69503</text>
<rect x="1420" y="397" width="41" height="11" fill="#00ff00" shape-rendering="crispEdges"/>
<text x="1424" y="406" font-size="10.2" fill="#fff" textLength="33" lengthAdjust="spacingAndGlyphs">0.68303</text>
<rect x="1420" y="450" width="41" height="11" fill="#000000" shape-rendering="crispEdges"/>
<text x="1424" y="459" font-size="10.2" fill="#fff" textLength="33" lengthAdjust="spacingAndGlyphs">0.67747</text>
<text x="1422" y="574.0" font-size="10.2" fill="#000" textLength="38" lengthAdjust="spacingAndGlyphs" stroke="#000" stroke-width="0.18">0.002574</text>
<text x="1422" y="598.0" font-size="10.2" fill="#000" textLength="18" lengthAdjust="spacingAndGlyphs" stroke="#000" stroke-width="0.18">0.00</text>
<text x="1422" y="663.0" font-size="10.2" fill="#000" textLength="40.6" lengthAdjust="spacingAndGlyphs" stroke="#000" stroke-width="0.18">-0.006338</text>
<text x="1422.4" y="679.0" font-size="10.2" fill="#000" textLength="14.6" lengthAdjust="spacingAndGlyphs" stroke="#000" stroke-width="0.18">100</text>
<text x="1421.3" y="712.0" font-size="10.2" fill="#000" textLength="9.9" lengthAdjust="spacingAndGlyphs" stroke="#000" stroke-width="0.18">70</text>
<text x="1421.3" y="763.0" font-size="10.2" fill="#000" textLength="9.9" lengthAdjust="spacingAndGlyphs" stroke="#000" stroke-width="0.18">30</text>
<text x="1422.4" y="795.0" font-size="10.2" fill="#000" stroke="#000" stroke-width="0.18">0</text>
<text x="1.7" y="811.0" font-size="10.2" fill="#000" textLength="52.400000000000006" lengthAdjust="spacingAndGlyphs" stroke="#000" stroke-width="0.18">26 Feb 2019</text>
<text x="65.7" y="811.0" font-size="10.2" fill="#000" textLength="47.400000000000006" lengthAdjust="spacingAndGlyphs" stroke="#000" stroke-width="0.18">7 Mar 2019</text>
<text x="130.2" y="811.0" font-size="10.2" fill="#000" textLength="52.0" lengthAdjust="spacingAndGlyphs" stroke="#000" stroke-width="0.18">17 Mar 2019</text>
<text x="194.0" y="811.0" font-size="10.2" fill="#000" textLength="51.900000000000006" lengthAdjust="spacingAndGlyphs" stroke="#000" stroke-width="0.18">26 Mar 2019</text>
<text x="257.9" y="811.0" font-size="10.2" fill="#000" textLength="45.2" lengthAdjust="spacingAndGlyphs" stroke="#000" stroke-width="0.18">4 Apr 2019</text>
<text x="322.5" y="811.0" font-size="10.2" fill="#000" textLength="50.300000000000004" lengthAdjust="spacingAndGlyphs" stroke="#000" stroke-width="0.18">14 Apr 2019</text>
<text x="386.0" y="811.0" font-size="10.2" fill="#000" textLength="50.900000000000006" lengthAdjust="spacingAndGlyphs" stroke="#000" stroke-width="0.18">24 Apr 2019</text>
<text x="450.2" y="811.0" font-size="10.2" fill="#000" textLength="49.800000000000004" lengthAdjust="spacingAndGlyphs" stroke="#000" stroke-width="0.18">3 May 2019</text>
<text x="514.5" y="811.0" font-size="10.2" fill="#000" textLength="54.6" lengthAdjust="spacingAndGlyphs" stroke="#000" stroke-width="0.18">13 May 2019</text>
<text x="579.1" y="811.0" font-size="10.2" fill="#000" textLength="54.2" lengthAdjust="spacingAndGlyphs" stroke="#000" stroke-width="0.18">22 May 2019</text>
<text x="641.7" y="811.0" font-size="10.2" fill="#000" textLength="55.0" lengthAdjust="spacingAndGlyphs" stroke="#000" stroke-width="0.18">31 May 2019</text>
<text x="706.3000000000001" y="811.0" font-size="10.2" fill="#000" textLength="49.900000000000006" lengthAdjust="spacingAndGlyphs" stroke="#000" stroke-width="0.18">10 Jun 2019</text>
<text x="770.3000000000001" y="811.0" font-size="10.2" fill="#000" textLength="49.5" lengthAdjust="spacingAndGlyphs" stroke="#000" stroke-width="0.18">19 Jun 2019</text>
<text x="833.8000000000001" y="811.0" font-size="10.2" fill="#000" textLength="49.5" lengthAdjust="spacingAndGlyphs" stroke="#000" stroke-width="0.18">28 Jun 2019</text>
<text x="897.7" y="811.0" font-size="10.2" fill="#000" textLength="42.300000000000004" lengthAdjust="spacingAndGlyphs" stroke="#000" stroke-width="0.18">8 Jul 2019</text>
<text x="961.9000000000001" y="811.0" font-size="10.2" fill="#000" textLength="47.400000000000006" lengthAdjust="spacingAndGlyphs" stroke="#000" stroke-width="0.18">17 Jul 2019</text>
<text x="1025.8" y="811.0" font-size="10.2" fill="#000" textLength="47.0" lengthAdjust="spacingAndGlyphs" stroke="#000" stroke-width="0.18">26 Jul 2019</text>
<text x="1090.0" y="811.0" font-size="10.2" fill="#000" textLength="47.800000000000004" lengthAdjust="spacingAndGlyphs" stroke="#000" stroke-width="0.18">5 Aug 2019</text>
<polygon points="6,34 13,34 9.5,29.6" fill="#000"/>
<text x="18.7" y="34.0" font-size="10.2" fill="#000" textLength="68.4" lengthAdjust="spacingAndGlyphs" stroke="#000" stroke-width="0.18">AUDUSD-,Daily</text>
<text x="93" y="34.0" font-size="10.2" fill="#000" textLength="32" lengthAdjust="spacingAndGlyphs" stroke="#000" stroke-width="0.18">0.67564</text>
<text x="129" y="34.0" font-size="10.2" fill="#000" textLength="32" lengthAdjust="spacingAndGlyphs" stroke="#000" stroke-width="0.18">0.67781</text>
<text x="165" y="34.0" font-size="10.2" fill="#000" textLength="32.5" lengthAdjust="spacingAndGlyphs" stroke="#000" stroke-width="0.18">0.67452</text>
<text x="201" y="34.0" font-size="10.2" fill="#000" textLength="32" lengthAdjust="spacingAndGlyphs" stroke="#000" stroke-width="0.18">0.67747</text>
<text x="7.3" y="576.0" font-size="10.2" fill="#000" textLength="65.9" lengthAdjust="spacingAndGlyphs" stroke="#000" stroke-width="0.18">MACD(12,26,9)</text>
<text x="76" y="576.0" font-size="10.2" fill="#000" textLength="40.1" lengthAdjust="spacingAndGlyphs" stroke="#000" stroke-width="0.18">-0.005933</text>
<text x="120.2" y="576.0" font-size="10.2" fill="#000" textLength="40.7" lengthAdjust="spacingAndGlyphs" stroke="#000" stroke-width="0.18">-0.004378</text>
<text x="7.2" y="681.0" font-size="10.2" fill="#000" textLength="67.6" lengthAdjust="spacingAndGlyphs" stroke="#000" stroke-width="0.18">RSI(14) 28.0613</text>
<rect x="5" y="41" width="222" height="67" fill="#fff"/>
<rect x="6" y="42" width="52" height="24" fill="url(#gb)" stroke="#2a2ad0" stroke-width="0"/>
<rect x="173" y="42" width="52" height="24" fill="url(#gb)"/>
<rect x="6" y="66" width="109" height="40" fill="url(#gl)"/>
<rect x="117" y="66" width="108" height="40" fill="url(#gl)"/>
<rect x="6" y="42" width="52" height="1" fill="#2020c4"/>
<rect x="6" y="42" width="1" height="24" fill="#1c1cc0"/>
<rect x="57" y="42" width="1" height="24" fill="#1c1cc0"/>
<rect x="173" y="42" width="52" height="1" fill="#2020c4"/>
<rect x="173" y="42" width="1" height="24" fill="#1c1cc0"/>
<rect x="224" y="42" width="1" height="24" fill="#1c1cc0"/>
<rect x="6" y="66" width="1" height="40" fill="url(#gd)"/>
<rect x="114" y="66" width="1" height="40" fill="url(#gd)"/>
<rect x="6" y="105" width="109" height="1" fill="#00008c"/>
<rect x="117" y="66" width="1" height="40" fill="url(#gd)"/>
<rect x="224" y="66" width="1" height="40" fill="url(#gd)"/>
<rect x="117" y="105" width="108" height="1" fill="#00008c"/>
<rect x="10" y="65" width="44" height="1" fill="#0c0c88"/>
<rect x="10" y="66" width="44" height="1" fill="#7c7cf4"/>
<rect x="177" y="65" width="44" height="1" fill="#0c0c88"/>
<rect x="177" y="66" width="44" height="1" fill="#7c7cf4"/>
<rect x="60" y="42" width="110" height="22" fill="#fff" stroke="#a8a8a8" stroke-width="1" transform="translate(0.5,0.5)"/>
<rect x="61.5" y="43.5" width="19" height="19" fill="url(#gs)" stroke="#b4b4b4" stroke-width="1"/>
<rect x="150.5" y="43.5" width="19" height="19" fill="url(#gs)" stroke="#b4b4b4" stroke-width="1"/>
<polygon points="68,51 74,51 71,54.5" fill="#4a5ab8"/>
<polygon points="157,54 163,54 160,50.5" fill="#4a5ab8"/>
<text x="122.6" y="56.8" font-size="12.3" fill="#000" textLength="22.6" lengthAdjust="spacingAndGlyphs" stroke="#000" stroke-width="0.2">1.00</text>
<text x="18.6" y="58.1" font-size="12.3" fill="#fff" textLength="25.4" lengthAdjust="spacingAndGlyphs">SELL</text>
<text x="186.9" y="58.1" font-size="12.3" fill="#fff" textLength="23.1" lengthAdjust="spacingAndGlyphs">BUY</text>
<text x="26" y="97" font-size="12.3" fill="#fff" textLength="23.6" lengthAdjust="spacingAndGlyphs" font-weight="bold">0.67</text>
<text x="136" y="97" font-size="12.3" fill="#fff" textLength="23.6" lengthAdjust="spacingAndGlyphs" font-weight="bold">0.67</text>
<text x="53.0" y="97.2" font-size="35" fill="#fff" textLength="35.2" lengthAdjust="spacingAndGlyphs" stroke="url(#gl)" stroke-width="0.4">74</text>
<text x="163.7" y="97.2" font-size="35" fill="#fff" textLength="36.2" lengthAdjust="spacingAndGlyphs" stroke="url(#gl)" stroke-width="0.4">76</text>
<text x="93.2" y="80.7" font-size="12.3" fill="#fff" textLength="6.4" lengthAdjust="spacingAndGlyphs" stroke="#fff" stroke-width="0.5">7</text>
<text x="204.2" y="80.7" font-size="12.3" fill="#fff" textLength="7.1" lengthAdjust="spacingAndGlyphs" stroke="#fff" stroke-width="0.5">8</text>
<rect x="0" y="819" width="1464" height="2" fill="#ececec"/>
<rect x="0" y="822" width="1464" height="19" fill="#f0f0f0"/>
<rect x="0" y="841" width="1464" height="2" fill="#fafafa"/>
<rect x="0" y="821" width="1464" height="1" fill="#000"/>
<rect x="113" y="821" width="106" height="18" fill="#fff"/>
<rect x="112" y="821" width="1" height="19" fill="#000"/>
<rect x="219" y="821" width="1" height="19" fill="#000"/>
<rect x="112" y="839" width="108" height="1" fill="#000"/>
<text x="15.3" y="835.5" font-size="12" fill="#787878" textLength="84.4" lengthAdjust="spacingAndGlyphs">EURUSD-,Daily</text>
<text x="232.3" y="835.5" font-size="12" fill="#787878" textLength="83.4" lengthAdjust="spacingAndGlyphs">USDCHF-,Daily</text>
<text x="339" y="835.5" font-size="12" fill="#787878" textLength="86" lengthAdjust="spacingAndGlyphs">USDCAD-,Daily</text>
<text x="448.3" y="835.5" font-size="12" fill="#787878" textLength="87.4" lengthAdjust="spacingAndGlyphs">USDCNH-,Daily</text>
<text x="559" y="835.5" font-size="12" fill="#787878" textLength="96.7" lengthAdjust="spacingAndGlyphs">EURCHF-,Weekly</text>
<text x="680.3" y="835.5" font-size="12" fill="#787878" textLength="100" lengthAdjust="spacingAndGlyphs">XAUUSD-,Weekly</text>
<text x="803" y="835.5" font-size="12" fill="#787878" textLength="72.3" lengthAdjust="spacingAndGlyphs">GBPUSD-,H1</text>
<text x="899.7" y="835.5" font-size="12" fill="#787878" textLength="56.6" lengthAdjust="spacingAndGlyphs">UKOil-,H4</text>
<text x="978.3" y="835.5" font-size="12" fill="#787878" textLength="82.5" lengthAdjust="spacingAndGlyphs">USDX-,Weekly</text>
<text x="122.5" y="835.5" font-size="12" fill="#000" textLength="85.8" lengthAdjust="spacingAndGlyphs">AUDUSD-,Daily</text>
<rect x="328" y="824" width="1" height="14" fill="#5a5a5a"/>
<rect x="436" y="824" width="1" height="14" fill="#5a5a5a"/>
<rect x="548" y="824" width="1" height="14" fill="#5a5a5a"/>
<rect x="668" y="824" width="1" height="14" fill="#5a5a5a"/>
<rect x="792" y="824" width="1" height="14" fill="#5a5a5a"/>
<rect x="888" y="824" width="1" height="14" fill="#5a5a5a"/>
<rect x="968" y="824" width="1" height="14" fill="#5a5a5a"/>
<rect x="1072" y="824" width="1" height="14" fill="#5a5a5a"/>
<polygon points="1437,827 1437,833 1434,830" fill="#909090"/>
<polygon points="1453,827 1453,833 1456,830" fill="#909090"/>
</svg>
</body></html>
